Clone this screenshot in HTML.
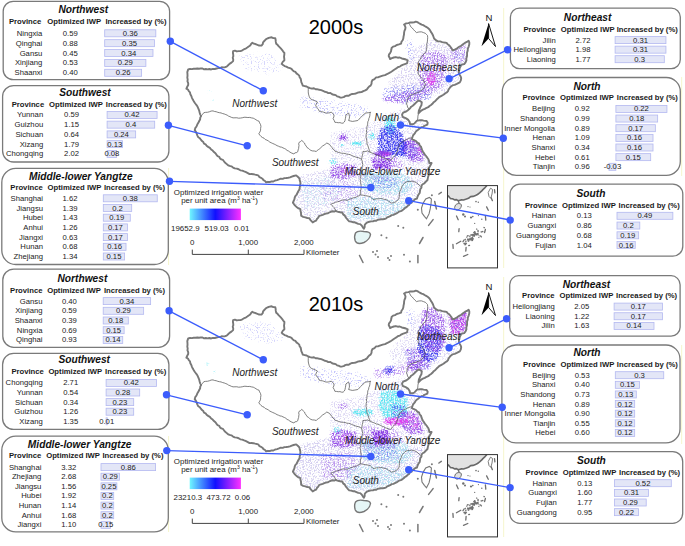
<!DOCTYPE html>
<html><head><meta charset="utf-8"><title>IWP map</title><style>
html,body{margin:0;padding:0;background:#fff;}
svg{display:block;font-family:"Liberation Sans", sans-serif;}
.bx{fill:#fff;stroke:#7a7a7a;stroke-width:1.3;}
.tt{font-size:10.2px;font-weight:bold;font-style:italic;fill:#111;}
.hd{font-size:7.7px;font-weight:bold;fill:#1a1a1a;}
.tx{font-size:7.7px;fill:#222;}
.br{fill:#e3e6f7;stroke:#b3b8f0;stroke-width:0.8;}
.ol{fill:none;stroke:#787878;stroke-width:1.9;stroke-linejoin:round;}
.il{fill:none;stroke:#555;stroke-width:0.75;}
.isl{stroke:#777;stroke-width:1.4;}
.ds{stroke:#777;stroke-width:1.5;stroke-linecap:round;}
.lg{font-size:7.9px;fill:#222;}
.rl{font-size:10px;font-style:italic;fill:#222;}
.nn{font-size:9.6px;fill:#111;}
.yr{font-size:20px;fill:#000;}
.cn{stroke:#3b5cfc;stroke-width:1.35;}
.cd{fill:#3b5cfc;}
</style></head>
<body>
<svg width="685" height="546" viewBox="0 0 685 546">
<defs>
<linearGradient id="grad" x1="0" x2="1" y1="0" y2="0">
<stop offset="0" stop-color="#6ff7ff"/><stop offset="0.5" stop-color="#1010ff"/><stop offset="1" stop-color="#ff30ff"/>
</linearGradient>
<clipPath id="cn"><polygon points="187.3,72.1 188.2,69.4 197.4,68.5 207.5,69.4 216.6,68.5 226.7,66.6 229.5,63.9 233.1,61.1 233.1,51.1 240.5,51.1 244.1,49.2 248.7,46.5 252.4,42.8 256.9,44.7 261.5,45.6 264.3,41 266.1,39.2 271.6,37.3 275.3,38.2 276.2,43.7 279.8,47.4 284.4,52.9 284.4,60.2 281.7,63.9 286.3,66.6 290,68.2 295.5,71.9 299.2,75.6 301,80.2 302.8,85.6 308.3,87.5 317.5,89.3 326.6,92.1 334,94.8 340.4,97.6 346.8,95.7 354.1,93.9 361.5,92.1 367,89.3 370.6,85.6 372.4,80.2 376.1,77.4 380.5,76.3 385,75.1 389.4,72.9 393.8,70 398.2,67 402.6,64.8 407,63.4 407.7,60.4 404.1,59 399.7,57.5 393.8,57.5 390.1,59 388.7,56 390.9,51.6 391.6,48 396.7,45 401.1,43.6 403.3,38.5 404.1,32.6 405.5,27.5 404.1,24.5 408.5,23.1 415.8,21.6 420.2,23.8 424.6,26 429,28.9 431.9,33.3 434.1,38.5 437.8,41.4 442.2,42.1 446.6,42.9 450.2,46.5 452.4,50.2 456.8,48.7 461.2,45.8 464.9,42.9 468.6,40.7 469.3,44.3 467.8,48.7 467.1,54.6 466.4,60.4 464.2,64.1 461.2,64.8 459.8,67.8 459,73.6 461.2,78 459.8,82.4 456.8,83.9 452.4,85.4 449.5,88.3 448,91.2 445.1,93.4 441.5,95.8 438,98.3 435.4,100.9 432.4,103.8 429.5,106 426.6,107.8 422.9,109.7 420,111.8 418.5,113.3 418.9,110.4 420,108.2 421.4,105.3 421.8,102.3 420,100.9 418.5,100.5 416.3,102.3 414.1,104.5 411.2,106.7 409,109.3 406.1,111.5 403.1,112.6 402,114.8 402.8,117 406.1,118.4 408.3,119.9 409.7,122.1 410.1,124.3 412.7,124.3 415.6,122.1 417,120.6 420,120.3 423.6,120.6 426.6,121 427.7,122.8 427.3,124.7 424.4,125.8 421.4,127.2 419.2,128.7 417.8,130 414.6,133.7 412.4,137.3 411.9,139.2 416,141 419.2,143.7 421.5,148.3 423.8,152.9 426.5,156.5 428.4,159.3 429.3,163 431.6,163 430.2,165.7 428.4,168.4 429.3,172.1 428.4,175.8 427.5,180 425.5,182 421.5,185.7 419.7,193 417,198.5 412.4,201.2 407.8,205.8 402.3,210.4 395,214 388.6,216.8 385.8,218.6 379.4,219.5 373,221.4 367.5,222.3 364.7,225 363.8,228.7 360.2,224.1 354.7,222.3 349.2,221.4 345.7,217.4 342.4,212.5 335.8,210.8 329.2,212.5 324.3,214.1 319.3,215.8 316,220.7 312.7,222.4 309.4,218.3 305.3,217.4 301.2,215.8 300.4,209.2 295.4,205.9 292.9,202.6 295.4,196 299.5,189.4 300.4,183.7 299.5,178.7 296.2,175.4 293.6,176 288.1,177.8 280.8,178.7 273.4,181.5 266.1,182.4 262.4,178.7 257,175 249.6,174.1 244.1,171.4 236.8,168.6 229.5,165.9 224,161.3 216.6,154.9 211.1,149.4 206.6,145.7 202,141.1 197.4,135.6 194.7,130.2 196.5,126.5 199.2,121 201.1,116.1 199.2,110.6 196.5,105.1 192.8,99.6 190,92.3 186.4,88.6 188.2,85 187.3,77.6"/></clipPath>
<filter id="sp_haze_1" x="150" y="0" width="350" height="546" filterUnits="userSpaceOnUse" color-interpolation-filters="sRGB">
<feGaussianBlur in="SourceGraphic" stdDeviation="1.2" result="bl"/>
<feTurbulence type="fractalNoise" baseFrequency="0.7" numOctaves="2" seed="53" result="n"/>
<feColorMatrix in="n" type="matrix" values="0 0 0 0 0  0 0 0 0 0  0 0 0 0 0  1 0 0 0 0" result="na0"/>
<feComponentTransfer in="na0" result="na"><feFuncA type="table" tableValues="0 0 0.001 0.03 0.18 0.5 0.82 0.97 0.999 1 1"/></feComponentTransfer>
<feComposite in="bl" in2="na" operator="arithmetic" k1="0" k2="2" k3="-1" k4="0" result="m"/>
<feColorMatrix in="bl" type="matrix" values="1 0 0 0 0  0 1 0 0 0  0 0 1 0 0  0 0 0 0 1" result="sc"/>
<feComposite in="sc" in2="m" operator="in" result="o"/>
<feGaussianBlur in="o" stdDeviation="0.35"/>
</filter><filter id="sp_lcyan_1" x="150" y="0" width="350" height="546" filterUnits="userSpaceOnUse" color-interpolation-filters="sRGB">
<feGaussianBlur in="SourceGraphic" stdDeviation="1.2" result="bl"/>
<feTurbulence type="fractalNoise" baseFrequency="0.7" numOctaves="2" seed="60" result="n"/>
<feColorMatrix in="n" type="matrix" values="0 0 0 0 0  0 0 0 0 0  0 0 0 0 0  1 0 0 0 0" result="na0"/>
<feComponentTransfer in="na0" result="na"><feFuncA type="table" tableValues="0 0 0.001 0.03 0.18 0.5 0.82 0.97 0.999 1 1"/></feComponentTransfer>
<feComposite in="bl" in2="na" operator="arithmetic" k1="0" k2="2" k3="-1" k4="0" result="m"/>
<feColorMatrix in="bl" type="matrix" values="1 0 0 0 0  0 1 0 0 0  0 0 1 0 0  0 0 0 0 1" result="sc"/>
<feComposite in="sc" in2="m" operator="in" result="o"/>
<feGaussianBlur in="o" stdDeviation="0.35"/>
</filter><filter id="sp_cyan_1" x="150" y="0" width="350" height="546" filterUnits="userSpaceOnUse" color-interpolation-filters="sRGB">
<feGaussianBlur in="SourceGraphic" stdDeviation="1.2" result="bl"/>
<feTurbulence type="fractalNoise" baseFrequency="0.7" numOctaves="2" seed="67" result="n"/>
<feColorMatrix in="n" type="matrix" values="0 0 0 0 0  0 0 0 0 0  0 0 0 0 0  1 0 0 0 0" result="na0"/>
<feComponentTransfer in="na0" result="na"><feFuncA type="table" tableValues="0 0 0.001 0.03 0.18 0.5 0.82 0.97 0.999 1 1"/></feComponentTransfer>
<feComposite in="bl" in2="na" operator="arithmetic" k1="0" k2="2" k3="-1" k4="0" result="m"/>
<feColorMatrix in="bl" type="matrix" values="1 0 0 0 0  0 1 0 0 0  0 0 1 0 0  0 0 0 0 1" result="sc"/>
<feComposite in="sc" in2="m" operator="in" result="o"/>
<feGaussianBlur in="o" stdDeviation="0.35"/>
</filter><filter id="sp_blue_1" x="150" y="0" width="350" height="546" filterUnits="userSpaceOnUse" color-interpolation-filters="sRGB">
<feGaussianBlur in="SourceGraphic" stdDeviation="1.2" result="bl"/>
<feTurbulence type="fractalNoise" baseFrequency="0.7" numOctaves="2" seed="74" result="n"/>
<feColorMatrix in="n" type="matrix" values="0 0 0 0 0  0 0 0 0 0  0 0 0 0 0  1 0 0 0 0" result="na0"/>
<feComponentTransfer in="na0" result="na"><feFuncA type="table" tableValues="0 0 0.001 0.03 0.18 0.5 0.82 0.97 0.999 1 1"/></feComponentTransfer>
<feComposite in="bl" in2="na" operator="arithmetic" k1="0" k2="2" k3="-1" k4="0" result="m"/>
<feColorMatrix in="bl" type="matrix" values="1 0 0 0 0  0 1 0 0 0  0 0 1 0 0  0 0 0 0 1" result="sc"/>
<feComposite in="sc" in2="m" operator="in" result="o"/>
<feGaussianBlur in="o" stdDeviation="0.35"/>
</filter><filter id="sp_purple_1" x="150" y="0" width="350" height="546" filterUnits="userSpaceOnUse" color-interpolation-filters="sRGB">
<feGaussianBlur in="SourceGraphic" stdDeviation="1.2" result="bl"/>
<feTurbulence type="fractalNoise" baseFrequency="0.7" numOctaves="2" seed="81" result="n"/>
<feColorMatrix in="n" type="matrix" values="0 0 0 0 0  0 0 0 0 0  0 0 0 0 0  1 0 0 0 0" result="na0"/>
<feComponentTransfer in="na0" result="na"><feFuncA type="table" tableValues="0 0 0.001 0.03 0.18 0.5 0.82 0.97 0.999 1 1"/></feComponentTransfer>
<feComposite in="bl" in2="na" operator="arithmetic" k1="0" k2="2" k3="-1" k4="0" result="m"/>
<feColorMatrix in="bl" type="matrix" values="1 0 0 0 0  0 1 0 0 0  0 0 1 0 0  0 0 0 0 1" result="sc"/>
<feComposite in="sc" in2="m" operator="in" result="o"/>
<feGaussianBlur in="o" stdDeviation="0.35"/>
</filter><filter id="sp_magenta_1" x="150" y="0" width="350" height="546" filterUnits="userSpaceOnUse" color-interpolation-filters="sRGB">
<feGaussianBlur in="SourceGraphic" stdDeviation="1.2" result="bl"/>
<feTurbulence type="fractalNoise" baseFrequency="0.7" numOctaves="2" seed="88" result="n"/>
<feColorMatrix in="n" type="matrix" values="0 0 0 0 0  0 0 0 0 0  0 0 0 0 0  1 0 0 0 0" result="na0"/>
<feComponentTransfer in="na0" result="na"><feFuncA type="table" tableValues="0 0 0.001 0.03 0.18 0.5 0.82 0.97 0.999 1 1"/></feComponentTransfer>
<feComposite in="bl" in2="na" operator="arithmetic" k1="0" k2="2" k3="-1" k4="0" result="m"/>
<feColorMatrix in="bl" type="matrix" values="1 0 0 0 0  0 1 0 0 0  0 0 1 0 0  0 0 0 0 1" result="sc"/>
<feComposite in="sc" in2="m" operator="in" result="o"/>
<feGaussianBlur in="o" stdDeviation="0.35"/>
</filter><filter id="sp_haze_2" x="150" y="0" width="350" height="546" filterUnits="userSpaceOnUse" color-interpolation-filters="sRGB">
<feGaussianBlur in="SourceGraphic" stdDeviation="1.2" result="bl"/>
<feTurbulence type="fractalNoise" baseFrequency="0.7" numOctaves="2" seed="103" result="n"/>
<feColorMatrix in="n" type="matrix" values="0 0 0 0 0  0 0 0 0 0  0 0 0 0 0  1 0 0 0 0" result="na0"/>
<feComponentTransfer in="na0" result="na"><feFuncA type="table" tableValues="0 0 0.001 0.03 0.18 0.5 0.82 0.97 0.999 1 1"/></feComponentTransfer>
<feComposite in="bl" in2="na" operator="arithmetic" k1="0" k2="2" k3="-1" k4="0" result="m"/>
<feColorMatrix in="bl" type="matrix" values="1 0 0 0 0  0 1 0 0 0  0 0 1 0 0  0 0 0 0 1" result="sc"/>
<feComposite in="sc" in2="m" operator="in" result="o"/>
<feGaussianBlur in="o" stdDeviation="0.35"/>
</filter><filter id="sp_lcyan_2" x="150" y="0" width="350" height="546" filterUnits="userSpaceOnUse" color-interpolation-filters="sRGB">
<feGaussianBlur in="SourceGraphic" stdDeviation="1.2" result="bl"/>
<feTurbulence type="fractalNoise" baseFrequency="0.7" numOctaves="2" seed="110" result="n"/>
<feColorMatrix in="n" type="matrix" values="0 0 0 0 0  0 0 0 0 0  0 0 0 0 0  1 0 0 0 0" result="na0"/>
<feComponentTransfer in="na0" result="na"><feFuncA type="table" tableValues="0 0 0.001 0.03 0.18 0.5 0.82 0.97 0.999 1 1"/></feComponentTransfer>
<feComposite in="bl" in2="na" operator="arithmetic" k1="0" k2="2" k3="-1" k4="0" result="m"/>
<feColorMatrix in="bl" type="matrix" values="1 0 0 0 0  0 1 0 0 0  0 0 1 0 0  0 0 0 0 1" result="sc"/>
<feComposite in="sc" in2="m" operator="in" result="o"/>
<feGaussianBlur in="o" stdDeviation="0.35"/>
</filter><filter id="sp_cyan_2" x="150" y="0" width="350" height="546" filterUnits="userSpaceOnUse" color-interpolation-filters="sRGB">
<feGaussianBlur in="SourceGraphic" stdDeviation="1.2" result="bl"/>
<feTurbulence type="fractalNoise" baseFrequency="0.7" numOctaves="2" seed="117" result="n"/>
<feColorMatrix in="n" type="matrix" values="0 0 0 0 0  0 0 0 0 0  0 0 0 0 0  1 0 0 0 0" result="na0"/>
<feComponentTransfer in="na0" result="na"><feFuncA type="table" tableValues="0 0 0.001 0.03 0.18 0.5 0.82 0.97 0.999 1 1"/></feComponentTransfer>
<feComposite in="bl" in2="na" operator="arithmetic" k1="0" k2="2" k3="-1" k4="0" result="m"/>
<feColorMatrix in="bl" type="matrix" values="1 0 0 0 0  0 1 0 0 0  0 0 1 0 0  0 0 0 0 1" result="sc"/>
<feComposite in="sc" in2="m" operator="in" result="o"/>
<feGaussianBlur in="o" stdDeviation="0.35"/>
</filter><filter id="sp_blue_2" x="150" y="0" width="350" height="546" filterUnits="userSpaceOnUse" color-interpolation-filters="sRGB">
<feGaussianBlur in="SourceGraphic" stdDeviation="1.2" result="bl"/>
<feTurbulence type="fractalNoise" baseFrequency="0.7" numOctaves="2" seed="124" result="n"/>
<feColorMatrix in="n" type="matrix" values="0 0 0 0 0  0 0 0 0 0  0 0 0 0 0  1 0 0 0 0" result="na0"/>
<feComponentTransfer in="na0" result="na"><feFuncA type="table" tableValues="0 0 0.001 0.03 0.18 0.5 0.82 0.97 0.999 1 1"/></feComponentTransfer>
<feComposite in="bl" in2="na" operator="arithmetic" k1="0" k2="2" k3="-1" k4="0" result="m"/>
<feColorMatrix in="bl" type="matrix" values="1 0 0 0 0  0 1 0 0 0  0 0 1 0 0  0 0 0 0 1" result="sc"/>
<feComposite in="sc" in2="m" operator="in" result="o"/>
<feGaussianBlur in="o" stdDeviation="0.35"/>
</filter><filter id="sp_purple_2" x="150" y="0" width="350" height="546" filterUnits="userSpaceOnUse" color-interpolation-filters="sRGB">
<feGaussianBlur in="SourceGraphic" stdDeviation="1.2" result="bl"/>
<feTurbulence type="fractalNoise" baseFrequency="0.7" numOctaves="2" seed="131" result="n"/>
<feColorMatrix in="n" type="matrix" values="0 0 0 0 0  0 0 0 0 0  0 0 0 0 0  1 0 0 0 0" result="na0"/>
<feComponentTransfer in="na0" result="na"><feFuncA type="table" tableValues="0 0 0.001 0.03 0.18 0.5 0.82 0.97 0.999 1 1"/></feComponentTransfer>
<feComposite in="bl" in2="na" operator="arithmetic" k1="0" k2="2" k3="-1" k4="0" result="m"/>
<feColorMatrix in="bl" type="matrix" values="1 0 0 0 0  0 1 0 0 0  0 0 1 0 0  0 0 0 0 1" result="sc"/>
<feComposite in="sc" in2="m" operator="in" result="o"/>
<feGaussianBlur in="o" stdDeviation="0.35"/>
</filter><filter id="sp_magenta_2" x="150" y="0" width="350" height="546" filterUnits="userSpaceOnUse" color-interpolation-filters="sRGB">
<feGaussianBlur in="SourceGraphic" stdDeviation="1.2" result="bl"/>
<feTurbulence type="fractalNoise" baseFrequency="0.7" numOctaves="2" seed="138" result="n"/>
<feColorMatrix in="n" type="matrix" values="0 0 0 0 0  0 0 0 0 0  0 0 0 0 0  1 0 0 0 0" result="na0"/>
<feComponentTransfer in="na0" result="na"><feFuncA type="table" tableValues="0 0 0.001 0.03 0.18 0.5 0.82 0.97 0.999 1 1"/></feComponentTransfer>
<feComposite in="bl" in2="na" operator="arithmetic" k1="0" k2="2" k3="-1" k4="0" result="m"/>
<feColorMatrix in="bl" type="matrix" values="1 0 0 0 0  0 1 0 0 0  0 0 1 0 0  0 0 0 0 1" result="sc"/>
<feComposite in="sc" in2="m" operator="in" result="o"/>
<feGaussianBlur in="o" stdDeviation="0.35"/>
</filter>
</defs>
<rect width="685" height="546" fill="#fff"/>
<path d="M503.7,8 V268 M503.7,277 V537 M168.6,168 V265 M168.6,436 V532 M681.7,77 V176 M681.7,345 V444" stroke="#f6f6cc" stroke-width="1" fill="none"/>
<g transform="translate(0,0)">
<polygon points="187.3,72.1 188.2,69.4 197.4,68.5 207.5,69.4 216.6,68.5 226.7,66.6 229.5,63.9 233.1,61.1 233.1,51.1 240.5,51.1 244.1,49.2 248.7,46.5 252.4,42.8 256.9,44.7 261.5,45.6 264.3,41 266.1,39.2 271.6,37.3 275.3,38.2 276.2,43.7 279.8,47.4 284.4,52.9 284.4,60.2 281.7,63.9 286.3,66.6 290,68.2 295.5,71.9 299.2,75.6 301,80.2 302.8,85.6 308.3,87.5 317.5,89.3 326.6,92.1 334,94.8 340.4,97.6 346.8,95.7 354.1,93.9 361.5,92.1 367,89.3 370.6,85.6 372.4,80.2 376.1,77.4 380.5,76.3 385,75.1 389.4,72.9 393.8,70 398.2,67 402.6,64.8 407,63.4 407.7,60.4 404.1,59 399.7,57.5 393.8,57.5 390.1,59 388.7,56 390.9,51.6 391.6,48 396.7,45 401.1,43.6 403.3,38.5 404.1,32.6 405.5,27.5 404.1,24.5 408.5,23.1 415.8,21.6 420.2,23.8 424.6,26 429,28.9 431.9,33.3 434.1,38.5 437.8,41.4 442.2,42.1 446.6,42.9 450.2,46.5 452.4,50.2 456.8,48.7 461.2,45.8 464.9,42.9 468.6,40.7 469.3,44.3 467.8,48.7 467.1,54.6 466.4,60.4 464.2,64.1 461.2,64.8 459.8,67.8 459,73.6 461.2,78 459.8,82.4 456.8,83.9 452.4,85.4 449.5,88.3 448,91.2 445.1,93.4 441.5,95.8 438,98.3 435.4,100.9 432.4,103.8 429.5,106 426.6,107.8 422.9,109.7 420,111.8 418.5,113.3 418.9,110.4 420,108.2 421.4,105.3 421.8,102.3 420,100.9 418.5,100.5 416.3,102.3 414.1,104.5 411.2,106.7 409,109.3 406.1,111.5 403.1,112.6 402,114.8 402.8,117 406.1,118.4 408.3,119.9 409.7,122.1 410.1,124.3 412.7,124.3 415.6,122.1 417,120.6 420,120.3 423.6,120.6 426.6,121 427.7,122.8 427.3,124.7 424.4,125.8 421.4,127.2 419.2,128.7 417.8,130 414.6,133.7 412.4,137.3 411.9,139.2 416,141 419.2,143.7 421.5,148.3 423.8,152.9 426.5,156.5 428.4,159.3 429.3,163 431.6,163 430.2,165.7 428.4,168.4 429.3,172.1 428.4,175.8 427.5,180 425.5,182 421.5,185.7 419.7,193 417,198.5 412.4,201.2 407.8,205.8 402.3,210.4 395,214 388.6,216.8 385.8,218.6 379.4,219.5 373,221.4 367.5,222.3 364.7,225 363.8,228.7 360.2,224.1 354.7,222.3 349.2,221.4 345.7,217.4 342.4,212.5 335.8,210.8 329.2,212.5 324.3,214.1 319.3,215.8 316,220.7 312.7,222.4 309.4,218.3 305.3,217.4 301.2,215.8 300.4,209.2 295.4,205.9 292.9,202.6 295.4,196 299.5,189.4 300.4,183.7 299.5,178.7 296.2,175.4 293.6,176 288.1,177.8 280.8,178.7 273.4,181.5 266.1,182.4 262.4,178.7 257,175 249.6,174.1 244.1,171.4 236.8,168.6 229.5,165.9 224,161.3 216.6,154.9 211.1,149.4 206.6,145.7 202,141.1 197.4,135.6 194.7,130.2 196.5,126.5 199.2,121 201.1,116.1 199.2,110.6 196.5,105.1 192.8,99.6 190,92.3 186.4,88.6 188.2,85 187.3,77.6" fill="#fff"/>
<g clip-path="url(#cn)">
<g filter="url(#sp_haze_1)"><polygon points="296,176 330,168 362,172 400,180 424,180 418,200 400,212 370,222 340,222 310,222 294,205" fill="#b4a8e6" fill-opacity="0.265"/><polygon points="330,132 365,126 385,114 405,108 412,115 428,125 430,165 424,182 362,180 330,162" fill="#b4a8e6" fill-opacity="0.245"/><polygon points="416,46 432,40 448,45 467,44 465,66 459,80 445,92 420,102 395,100 388,82 408,62" fill="#b4a8e6" fill-opacity="0.283"/></g>
<g filter="url(#sp_lcyan_1)"><polygon points="362,172 385,170 408,175 414,186 405,195 380,195 362,190" fill="#8fd8ec" fill-opacity="0.4"/><polygon points="345,198 370,196 398,200 412,203 400,214 372,220 348,220" fill="#8fd8ec" fill-opacity="0.332"/><polygon points="300,182 330,176 345,190 330,205 305,210" fill="#8fd8ec" fill-opacity="0.2"/><ellipse cx="362.7" cy="237.6" rx="6" ry="5" fill="#8fd8ec" fill-opacity="0.274"/></g>
<g filter="url(#sp_cyan_1)"><polygon points="385,116 394,116 397,127 395,134 389,137 384,128" fill="#55e6f2" fill-opacity="0.526"/><ellipse cx="372" cy="136" rx="3" ry="4" fill="#55e6f2" fill-opacity="0.526"/><ellipse cx="357" cy="143.5" rx="6.5" ry="2" fill="#55e6f2" fill-opacity="0.726"/><ellipse cx="342" cy="145" rx="2.5" ry="1.5" fill="#55e6f2" fill-opacity="0.613"/><ellipse cx="333" cy="162" rx="5" ry="3.5" fill="#55e6f2" fill-opacity="0.387"/><ellipse cx="210" cy="92" rx="1.5" ry="1.2" fill="#55e6f2" fill-opacity="0.418"/><ellipse cx="213" cy="100" rx="1.2" ry="1.2" fill="#55e6f2" fill-opacity="0.418"/></g>
<g filter="url(#sp_blue_1)"><polygon points="380,128 392,124 402,132 407,145 405,156 392,157 378,152 377,140" fill="#3c3cf0" fill-opacity="0.526"/><polygon points="400,140 415,142 420,155 410,160 400,156" fill="#3c3cf0" fill-opacity="0.354"/><polygon points="405,40 414,40 415,60 408,62" fill="#3c3cf0" fill-opacity="0.2"/><polygon points="384,88 412,84 432,88 430,100 405,104 382,100" fill="#3c3cf0" fill-opacity="0.265"/><polygon points="300,96 330,100 360,104 372,110 360,118 320,114 300,108" fill="#3c3cf0" fill-opacity="0.158"/><polygon points="238,55 270,52 285,70 270,75 245,70" fill="#3c3cf0" fill-opacity="0.112"/><ellipse cx="459" cy="55" rx="7" ry="7" fill="#3c3cf0" fill-opacity="0.173"/><ellipse cx="385" cy="182" rx="14" ry="7" fill="#3c3cf0" fill-opacity="0.224"/></g>
<g filter="url(#sp_purple_1)"><polygon points="405,138 418,140 425,152 424,162 410,162 402,150" fill="#8c3ee6" fill-opacity="0.447"/><ellipse cx="383" cy="153.5" rx="10" ry="3" fill="#8c3ee6" fill-opacity="0.8"/><polygon points="370,156 398,157 405,168 375,170" fill="#8c3ee6" fill-opacity="0.332"/><polygon points="382,96 394,94 410,90 424,90 422,100 400,104 384,102" fill="#8c3ee6" fill-opacity="0.354"/><polygon points="330,166 342,163 356,165 358,176 345,180 330,178" fill="#8c3ee6" fill-opacity="0.447"/><polygon points="421,54 436,50 449,56 446,75 440,90 425,96 418,80" fill="#8c3ee6" fill-opacity="0.346"/><polygon points="449,47 466,44 466,62 450,64" fill="#8c3ee6" fill-opacity="0.265"/><polygon points="371,159 390,158 392,170 372,170" fill="#8c3ee6" fill-opacity="0.387"/><ellipse cx="343" cy="137.5" rx="5" ry="3.5" fill="#8c3ee6" fill-opacity="0.553"/><polygon points="320,180 350,180 360,195 345,205 322,200" fill="#8c3ee6" fill-opacity="0.187"/></g>
<g filter="url(#sp_magenta_1)"><ellipse cx="431.5" cy="79" rx="5.5" ry="7.5" fill="#e040f0" fill-opacity="0.5"/><ellipse cx="386" cy="154" rx="5" ry="2" fill="#e040f0" fill-opacity="0.418"/><ellipse cx="419" cy="150" rx="2.5" ry="4" fill="#e040f0" fill-opacity="0.387"/><ellipse cx="345" cy="171" rx="5" ry="5" fill="#e040f0" fill-opacity="0.245"/></g>
</g>
<polyline points="201.1,116.1 202.53,114.46 203.8,112.7 205.63,112.35 207.49,112.25 209.3,111.8 211.08,111.05 213,110.9 214.56,111.48 216.22,111.72 217.78,112.32 219.4,112.7 221.07,112.95 222.63,113.55 224.25,113.97 225.8,114.6 227.23,115.17 228.48,116.09 229.93,116.61 231.3,117.3 233.09,117.85 234.94,117.81 236.8,117.78 238.6,118.2 240.46,118.05 242.3,117.77 244.12,117.28 246,117.3 247.82,117.54 249.69,117.41 251.49,117.89 253.3,118.2 254.66,118.92 255.99,119.72 257.28,120.59 258.8,121 259.63,122.89 260.6,124.7 260.93,126.53 260.62,128.37 260.6,130.2 259.86,132.08 258.8,133.8 259.88,135.15 261,136.46 262.4,137.5 264.03,138.17 265.26,139.5 266.92,140.14 268.44,140.99 269.8,142.1 271.27,142.79 272.75,143.49 274.25,144.13 275.71,144.83 277.1,145.7 278.58,146.22 279.97,146.94 281.56,147.16 282.97,147.86 284.4,148.5 285.87,149.25 287.06,150.43 288.62,151.05 289.9,152.1 291.83,153.15 293.9,153.9 295.06,152.82 296.69,152.51 297.9,151.5 298.07,149.96 298.63,148.48 298.76,146.93 299,145.4 298.66,143.79 299.2,142.3 300.6,141.49 301.8,140.4 303.14,141.71 304.5,143 305.13,144.67 306.19,146.09 307.1,147.6 308.46,148.33 309.55,149.49 310.81,150.37 312.3,150.9 314.33,151.01 316.3,151.5 317.29,150.34 318.57,149.52 319.82,148.66 320.9,147.6 322.4,146.11 324.2,145 325.54,144.05 326.8,143 329.4,144.3 330.68,145.97 332,147.6 332.94,149.04 334.39,150.04 335.3,151.5 336.9,151.69 338.36,152.38 339.9,152.8 341.64,153.21 343.43,153.33 345.2,153.5 346.8,154.16 348.55,154.34 350.24,154.69 351.8,155.5 353.49,156.26 355.23,156.86 357,157.4 358.67,157.76 360.18,158.47 361.6,159.4" class="il"/>
<polyline points="308.3,87.5 308.28,89.33 308.24,91.17 308.3,93 308.71,94.91 309.3,96.76 310.2,98.5 311.88,99.64 313.8,100.3 315.69,101.11 317.5,102.1 316.32,103.81 315.7,105.8 316.64,107.15 317.61,108.48 318.64,109.77 319.3,111.3 320.76,111.67 322.28,111.79 323.72,112.23 325.12,112.82 326.6,113.1 328.17,112.99 329.7,112.67 331.2,112.2 332.8,113.4 334,115 333.85,116.87 333.1,118.6 334.15,120.38 334.9,122.3 336.56,122.44 338.22,122.74 339.9,122.6 341.46,123.11 343.1,123.2 344.3,122.02 345,120.5 345.36,118.68 345.69,116.85 345.9,115 347.17,113.93 348.6,113.1 349.18,114.92 349.5,116.8 349.25,118.7 348.6,120.5 350.44,120.97 352.3,121.4 354.15,121.17 355.97,120.85 357.8,120.5 358.98,119.21 360.23,118 361.5,116.8 362.57,115.44 364.06,114.49 365.1,113.1 366.94,112.86 368.79,112.67 370.6,112.2 369.94,113.74 369.85,115.44 369.51,117.07 368.8,118.6 368.63,120.18 367.89,121.64 367.65,123.21 367.6,124.81 367.03,126.31 366.9,127.9 366.87,129.49 366.37,131.04 366.77,132.67 366.17,134.21 366.2,135.8 366.01,137.39 366.54,138.91 366.65,140.48 367.02,142.02 366.9,143.6 367.68,145.31 368.34,147.07 368.8,148.9 369.58,150.5 370.1,152.2 367.5,150.9 366.01,151.4 364.45,151.44 362.9,151.5 362.87,153.54 362.3,155.5 361.93,157.45 361.6,159.4" class="il"/>
<polyline points="408.5,23.1 409.83,24.76 410.7,26.7 412.34,28.02 413.6,29.7 415,31.2 416.5,32.6 418.17,32.14 419.87,31.88 421.6,31.9 423.46,32.58 425.3,33.3 426.44,34.36 427.5,35.5 427.7,37.7 427.5,39.9 427.34,41.88 426.8,43.81 426.8,45.8 426.79,47.77 426.48,49.7 426,51.6 424.79,53.33 423.1,54.6 422.15,56.16 420.9,57.5 420.4,59.08 419.4,60.4 418.39,61.76 418,63.4 418.48,65.58 418.7,67.8 418.13,69.45 418.49,71.24 418,72.9 418.86,74.89 420.2,76.6 421.65,78.05 423.1,79.5 423.71,81.03 424.47,82.48 425.3,83.9 424.95,85.42 424.48,86.89 423.8,88.3 422.52,89.17 421.56,90.43 420.2,91.2 418.89,92.24 417.18,92.5 415.8,93.4 414.01,93.84 412.32,94.63 410.5,95 409.34,96.49 408.2,98 407.38,99.4 407.1,101 406.95,102.53 406.5,104 407.25,105.42 407.5,107 409,109.3" class="il"/>
<polyline points="418.5,113.3 417.9,116.2 417.83,118.07 417.4,119.9" class="il"/>
<polyline points="370.1,152.2 372.1,153.1 373.57,153.61 375.01,154.22 376.38,155 377.95,155.24 379.4,155.8 380.77,156.5 382.12,157.25 383.63,157.7 384.9,158.6 386.73,159.21 388.54,159.89 390.4,160.4 391.65,159.45 392.4,158 393.6,157 394.6,155.8 395.9,154.9 396.71,153.13 397.23,151.28 397.7,149.4 398,147.47 399.22,145.84 399.5,143.9 400.93,143.26 402.03,142.19 403.2,141.2 405.09,140.32 406.9,139.3 408.57,138.57 410.27,137.97 412.1,137.8" class="il"/>
<polyline points="361.6,159.4 362.2,161.13 362.34,162.96 362.9,164.7 362.42,166.25 361.96,167.8 362.06,169.47 361.5,171 361.36,172.86 361.09,174.69 360.71,176.51 360.2,178.3 360.19,179.85 360.76,181.34 360.63,182.9 361,184.41 361.09,185.95 361.1,187.5 360.92,189.33 360.42,191.12 360.35,192.97 360.2,194.8 358.98,195.8 357.52,196.34 356.19,197.12 354.7,197.6 353.13,197.9 351.67,198.48 350.19,199.02 348.7,199.55 347.3,200.3 345.67,200.06 344.05,199.85 342.4,200.1 340.67,200.47 339.12,201.39 337.4,201.8 335.66,202.2 334.1,203.06 332.39,203.51 330.8,204.3 331.87,205.4 333.03,206.4 334.1,207.5 335.03,209.11 335.8,210.8" class="il"/>
<polyline points="360.2,194.8 362.02,195 363.8,195.39 365.6,195.7 367.14,195.94 368.67,196.26 370.2,196.6 371.64,197.96 373,199.4 374.84,199.28 376.63,198.78 378.49,198.82 380.3,198.5 381.84,198.53 383.25,199.09 384.71,199.47 386.2,199.7 387.6,200.3 388.73,201.37 390.15,202.06 391.3,203.1 393.2,202.8 395,202.1 396.39,201.46 397.3,200.16 398.6,199.4 399.1,197.84 399.26,196.23 399.39,194.62 399.5,193 399.75,191.42 400.59,190.07 401.26,188.65 401.61,187.11 402.3,185.7 403.4,184.33 404.67,183.14 406,182 407.81,181.53 409.7,181.6 411.5,181.1 413.33,181.45 415.1,182 416.53,182.85 417.9,183.8 419.18,185.27 420.6,186.6" class="il"/>
<polygon points="187.3,72.1 188.2,69.4 190.02,68.99 191.88,69.08 193.71,68.74 195.57,68.77 197.4,68.5 199.07,68.76 200.8,68.41 202.49,68.51 204.11,69.4 205.84,69.03 207.5,69.4 209.3,68.98 211.18,69.48 212.96,68.83 214.81,68.98 216.6,68.5 218.28,68.16 219.99,67.99 221.59,67.24 223.36,67.35 225.08,67.24 226.7,66.6 228.11,65.27 229.5,63.9 231.43,62.67 233.1,61.1 233.25,59.43 232.71,57.77 233.33,56.1 233.18,54.43 232.92,52.77 233.1,51.1 234.95,50.68 236.8,51.43 238.65,51.08 240.5,51.1 242.39,50.32 244.1,49.2 245.81,48.59 247.26,47.57 248.7,46.5 250.2,45.53 251.1,43.97 252.4,42.8 253.79,43.68 255.42,44.02 256.9,44.7 259.12,45.53 261.5,45.6 262.72,44.24 263.06,42.34 264.3,41 266.1,39.2 267.83,38.26 269.68,37.69 271.6,37.3 273.35,38.16 275.3,38.2 275.66,40.02 275.79,41.89 276.2,43.7 277.53,44.81 278.6,46.17 279.8,47.4 281.03,48.71 282.2,50.06 283.19,51.57 284.4,52.9 284.32,54.73 284.04,56.55 284.24,58.38 284.4,60.2 282.74,61.82 281.7,63.9 283.07,65.08 284.54,66.08 286.3,66.6 288.09,67.54 290,68.2 291.54,68.87 292.57,70.32 293.89,71.32 295.5,71.9 296.48,73.39 297.92,74.41 299.2,75.6 299.62,77.2 300.64,78.57 301,80.2 301.32,82.09 302.14,83.82 302.8,85.6 304.7,86.05 306.59,86.5 308.3,87.5 310.08,88.17 311.9,88.65 313.89,88.22 315.61,89.21 317.5,89.3 319.34,89.78 321.23,90.12 323.01,90.8 324.71,91.77 326.6,92.1 328.34,93.09 330.44,93.06 332.11,94.22 334,94.8 335.76,95.12 337.12,96.38 338.86,96.76 340.4,97.6 342.1,97.45 343.72,97.06 345.2,96.18 346.8,95.7 348.73,95.69 350.41,94.63 352.18,93.98 354.1,93.9 355.97,93.54 357.7,92.59 359.59,92.29 361.5,92.1 363.3,91.09 365.21,90.32 367,89.3 367.98,87.85 369.1,86.55 370.6,85.6 371.51,83.9 371.64,81.95 372.4,80.2 374.5,79.13 376.1,77.4 378.39,77.2 380.5,76.3 382.72,75.59 385,75.1 386.45,74.33 387.94,73.65 389.4,72.9 390.94,72.04 392.38,71.04 393.8,70 395.3,69.04 396.79,68.09 398.2,67 399.84,66.62 401.14,65.54 402.6,64.8 404.78,64.04 407,63.4 407.7,60.4 405.97,59.52 404.1,59 401.82,58.47 399.7,57.5 397.73,57.68 395.77,57.07 393.8,57.5 391.94,58.23 390.1,59 389.44,57.48 388.7,56 389.04,54.34 390.1,53.03 390.9,51.6 391.32,49.81 391.6,48 393.08,46.63 395.05,46.09 396.7,45 398.94,44.41 401.1,43.6 401.47,41.74 402.67,40.25 403.3,38.5 403.54,36.53 403.99,34.59 404.1,32.6 404.44,30.86 405.21,29.25 405.5,27.5 404.99,25.91 404.1,24.5 406.17,23.39 408.5,23.1 410.25,22.34 412.18,22.51 414.06,22.38 415.8,21.6 417.37,22.13 418.75,23.03 420.2,23.8 421.63,24.61 423.21,25.12 424.6,26 426.13,26.86 427.63,27.79 429,28.9 430.06,30.3 430.86,31.88 431.9,33.3 432.8,34.96 433.47,36.72 434.1,38.5 435.8,40.14 437.8,41.4 440.07,41.33 442.2,42.1 444.39,42.56 446.6,42.9 447.65,44.25 449.12,45.18 450.2,46.5 451.51,48.22 452.4,50.2 454.69,49.71 456.8,48.7 458.14,47.54 459.58,46.53 461.2,45.8 463.01,44.3 464.9,42.9 466.84,41.95 468.6,40.7 469.3,42.43 469.3,44.3 468.7,46.55 467.8,48.7 467.72,50.68 467.04,52.6 467.1,54.6 466.92,56.54 466.32,58.43 466.4,60.4 465.56,62.4 464.2,64.1 461.2,64.8 460.63,66.36 459.8,67.8 459.4,69.71 458.92,71.62 459,73.6 459.77,75.05 460.69,76.42 461.2,78 460.83,80.3 459.8,82.4 458.29,83.13 456.8,83.9 454.69,84.91 452.4,85.4 450.75,86.65 449.5,88.3 448.48,89.61 448,91.2 446.72,92.53 445.1,93.4 443.41,94.77 441.5,95.8 439.59,96.82 438,98.3 436.61,99.51 435.4,100.9 433.71,102.15 432.4,103.8 431.03,105.01 429.5,106 428.23,107.18 426.6,107.8 424.84,108.92 422.9,109.7 421.29,110.54 420,111.8 418.5,113.3 418.9,110.4 420,108.2 420.51,106.66 421.4,105.3 421.8,102.3 420,100.9 418.5,100.5 416.3,102.3 414.1,104.5 412.73,105.71 411.2,106.7 410.16,108.05 409,109.3 407.59,110.46 406.1,111.5 403.1,112.6 402,114.8 402.8,117 404.48,117.63 406.1,118.4 408.3,119.9 409.7,122.1 410.1,124.3 412.7,124.3 414.38,123.5 415.6,122.1 417,120.6 420,120.3 421.83,120.14 423.6,120.6 426.6,121 427.7,122.8 427.3,124.7 424.4,125.8 423.09,126.9 421.4,127.2 419.2,128.7 417.8,130 416.43,130.97 415.41,132.24 414.6,133.7 413.13,135.27 412.4,137.3 411.9,139.2 413.97,140.05 416,141 417.34,142.66 419.2,143.7 419.62,145.41 420.96,146.65 421.5,148.3 422.07,149.93 422.76,151.5 423.8,152.9 425.03,154.79 426.5,156.5 427.44,157.91 428.4,159.3 429.03,161.11 429.3,163 431.6,163 430.2,165.7 429.42,167.13 428.4,168.4 429.09,170.19 429.3,172.1 429.23,174.04 428.4,175.8 427.87,177.88 427.5,180 425.5,182 424.3,183.37 422.64,184.26 421.5,185.7 421.45,187.62 420.25,189.26 419.98,191.13 419.7,193 418.46,194.67 417.58,196.51 417,198.5 415.28,199.09 413.9,200.24 412.4,201.2 411.56,202.66 409.94,203.34 409.16,204.86 407.8,205.8 406.54,207.09 404.96,207.99 403.66,209.23 402.3,210.4 400.87,211.19 399.21,211.49 397.88,212.47 396.52,213.41 395,214 393.49,214.9 391.67,215.1 390.21,216.12 388.6,216.8 387.06,217.49 385.8,218.6 384.22,218.96 382.64,219.32 381,219.24 379.4,219.5 377.72,219.7 376.28,220.73 374.53,220.67 373,221.4 371.11,221.33 369.29,221.73 367.5,222.3 365.9,223.44 364.7,225 364.68,226.95 363.8,228.7 362.69,227.1 361.66,225.43 360.2,224.1 358.24,223.88 356.47,223.1 354.7,222.3 352.83,222.21 351.04,221.68 349.2,221.4 347.98,220.11 346.85,218.75 345.7,217.4 344.81,215.63 343.13,214.38 342.4,212.5 340.65,212.46 339.02,211.98 337.37,211.55 335.8,210.8 334.25,211.6 332.39,211.24 330.77,211.77 329.2,212.5 327.68,213.39 325.93,213.56 324.3,214.1 322.69,214.82 321.02,215.39 319.3,215.8 318.31,217.51 316.99,218.99 316,220.7 314.31,221.48 312.7,222.4 311.5,221.11 310.28,219.84 309.4,218.3 307.32,218 305.3,217.4 303.13,216.92 301.2,215.8 301.05,214.14 300.99,212.48 300.49,210.86 300.4,209.2 298.53,208.42 296.91,207.24 295.4,205.9 294.06,204.32 292.9,202.6 293.61,200.98 294.39,199.39 294.67,197.61 295.4,196 296.66,194.49 297.54,192.76 298.42,191.02 299.5,189.4 299.69,187.48 300.1,185.6 300.4,183.7 300.28,182 299.73,180.38 299.5,178.7 297.97,176.93 296.2,175.4 293.6,176 291.78,176.63 290,177.42 288.1,177.8 286.27,177.99 284.43,178.08 282.67,178.86 280.8,178.7 278.97,179.46 277.12,180.16 275.13,180.48 273.4,181.5 271.53,181.34 269.76,182.06 267.88,181.82 266.1,182.4 265.05,180.98 263.48,180.08 262.4,178.7 261.03,177.8 259.51,177.13 258.51,175.69 257,175 255.17,174.63 253.34,174.2 251.48,174.06 249.6,174.1 247.83,173.06 246.03,172.11 244.1,171.4 242.3,170.65 240.32,170.33 238.65,169.23 236.8,168.6 234.82,168.34 233.04,167.55 231.41,166.34 229.5,165.9 227.86,165.06 226.51,163.88 225.14,162.73 224,161.3 222.99,159.97 221.34,159.39 220.02,158.42 219.27,156.8 217.61,156.22 216.6,154.9 215.44,153.31 213.96,152.04 212.69,150.56 211.1,149.4 209.86,147.85 208.15,146.88 206.6,145.7 205.64,144.36 204,143.7 203.32,142.08 202,141.1 200.86,139.72 199.85,138.23 198.28,137.2 197.4,135.6 196.7,133.7 195.95,131.83 194.7,130.2 195.24,128.18 196.5,126.5 197.26,124.6 198.35,122.86 199.2,121 200.11,119.47 200.25,117.65 201.1,116.1 200.19,114.36 199.62,112.51 199.2,110.6 198.39,108.72 197.6,106.83 196.5,105.1 195.5,103.78 194.55,102.42 193.65,101.03 192.8,99.6 191.97,97.82 191.33,95.98 190.35,94.26 190,92.3 188.8,91.07 187.91,89.54 186.4,88.6 187.23,86.76 188.2,85 188.2,83.12 187.45,81.34 187.7,79.43 187.3,77.6 187.53,75.77 187.46,73.93" class="ol"/>
<path d="M355.5,233 C357,231 361,231 364,231.5 C367,231.5 370,232 370.5,234.5 C370,238 367,241 364,242.5 C360,244 356.5,243.5 355.3,241 C354.5,238.5 354.5,235 355.5,233 Z" class="isl" fill="#e6f6f6"/>
<path d="M429.4,197.4 L431.4,199 L431,204 L430.2,208.9 L429,213.9 L426.5,218.8 L424.4,216.3 L422,213 L421.5,208.1 L423.2,203.1 L425.7,199 Z" fill="#fff" stroke="#777" stroke-width="1.1"/>
<line x1="434.7" y1="201.5" x2="436.4" y2="208.9" class="ds"/>
<line x1="428.6" y1="225.4" x2="433.1" y2="219.6" class="ds"/>
<line x1="438.9" y1="194" x2="441.3" y2="192.4" class="ds"/>
<line x1="423" y1="237.5" x2="419.5" y2="243.5" class="ds"/>
<line x1="417.9" y1="255.5" x2="417.9" y2="262.8" class="ds"/>
<line x1="359.5" y1="255.5" x2="363" y2="262.5" class="ds"/>
<circle cx="417.8" cy="209.7" r="1" fill="#7a7a7a"/>
<circle cx="431.9" cy="195.3" r="1" fill="#7a7a7a"/>
<circle cx="398.2" cy="226" r="1" fill="#7a7a7a"/>
<circle cx="403.3" cy="227.7" r="1" fill="#7a7a7a"/>
<circle cx="381.4" cy="235.3" r="1" fill="#7a7a7a"/>
<circle cx="386.5" cy="237.7" r="1" fill="#7a7a7a"/>
<circle cx="373" cy="252" r="1" fill="#7a7a7a"/>
<circle cx="375.5" cy="254.5" r="1" fill="#7a7a7a"/>
<circle cx="377" cy="251" r="1" fill="#7a7a7a"/>
<circle cx="378" cy="257" r="1" fill="#7a7a7a"/>
<circle cx="388" cy="258" r="1" fill="#7a7a7a"/>
<circle cx="391" cy="256" r="1" fill="#7a7a7a"/>
<circle cx="389.5" cy="260" r="1" fill="#7a7a7a"/>
<circle cx="404" cy="254.7" r="1" fill="#7a7a7a"/>
<circle cx="409.9" cy="261.6" r="1" fill="#7a7a7a"/>
<polygon points="447.5,185.9 448,195.4 449.5,197.5 450.8,198.7 452.5,198.8 454.9,199.9 456.5,199.6 458.2,200.7 460,200.2 461.5,199.9 463.5,200 466.4,199.1 468.5,198.3 470.6,196.6 473,196.4 475.5,195.4 477.5,194.5 479.6,192.9 481.5,191.2 482.9,189.6 484.5,188.2 486.2,186.3 487,185.9" fill="#e2e2e2"/><polyline points="448,195.4 449.5,197.5 450.8,198.7 452.5,198.8 454.9,199.9 456.5,199.6 458.2,200.7 460,200.2 461.5,199.9 463.5,200 466.4,199.1 468.5,198.3 470.6,196.6 473,196.4 475.5,195.4 477.5,194.5 479.6,192.9 481.5,191.2 482.9,189.6 484.5,188.2 486.2,186.3 487,185.9" fill="none" stroke="#686868" stroke-width="1.6" stroke-linejoin="round"/>
<path d="M455.5,205 C457,203.3 460,203 461.3,204.5 C461.8,206.5 460.5,209 458,210 C456,210.5 454.6,209.2 454.6,207.5 Z" fill="#e2e2e2" stroke="#6e6e6e" stroke-width="1"/>
<path d="M458.2,200.7 L459.2,203.5" stroke="#6e6e6e" stroke-width="1.3"/>
<path d="M490.5,188.2 L492.6,189.5 L492,194 L490.8,198.3 L489,196.5 L488.2,192.5 Z" fill="#fff" stroke="#6e6e6e" stroke-width="0.9"/>
<line x1="494.5" y1="189.6" x2="494.9" y2="192.9" stroke="#6e6e6e" stroke-width="1.3" stroke-linecap="round"/>
<line x1="491.2" y1="197.8" x2="492.4" y2="200.7" stroke="#6e6e6e" stroke-width="1.3" stroke-linecap="round"/>
<line x1="486.6" y1="206.9" x2="488.3" y2="210.2" stroke="#6e6e6e" stroke-width="1.3" stroke-linecap="round"/>
<line x1="485.4" y1="216" x2="485.8" y2="220.1" stroke="#6e6e6e" stroke-width="1.3" stroke-linecap="round"/>
<line x1="456.5" y1="216" x2="458.2" y2="219.7" stroke="#6e6e6e" stroke-width="1.3" stroke-linecap="round"/>
<line x1="459.1" y1="228.6" x2="458.8" y2="231.7" stroke="#6e6e6e" stroke-width="1.3" stroke-linecap="round"/>
<line x1="485.4" y1="229.5" x2="484.6" y2="232.5" stroke="#6e6e6e" stroke-width="1.3" stroke-linecap="round"/>
<line x1="452.9" y1="244.4" x2="453.2" y2="248.4" stroke="#6e6e6e" stroke-width="1.3" stroke-linecap="round"/>
<line x1="456.4" y1="243.8" x2="460.8" y2="241.3" stroke="#6e6e6e" stroke-width="1.3" stroke-linecap="round"/>
<line x1="466.1" y1="247.5" x2="465.8" y2="251" stroke="#6e6e6e" stroke-width="1.3" stroke-linecap="round"/>
<line x1="463.5" y1="256.3" x2="467.8" y2="254.5" stroke="#6e6e6e" stroke-width="1.3" stroke-linecap="round"/>
<circle cx="476" cy="201.6" r="0.8" fill="#6e6e6e"/>
<circle cx="478.3" cy="202.3" r="0.7" fill="#6e6e6e"/>
<circle cx="468" cy="206.6" r="0.7" fill="#6e6e6e"/>
<circle cx="470" cy="207" r="0.6" fill="#6e6e6e"/>
<circle cx="463.3" cy="214.5" r="1.2" fill="#6e6e6e"/>
<circle cx="465" cy="216.5" r="1" fill="#6e6e6e"/>
<circle cx="471" cy="217.5" r="1.1" fill="#6e6e6e"/>
<circle cx="472.8" cy="216.6" r="0.8" fill="#6e6e6e"/>
<circle cx="481.8" cy="219.2" r="0.7" fill="#6e6e6e"/>
<circle cx="478.4" cy="215.6" r="0.6" fill="#6e6e6e"/>
<circle cx="474.7" cy="223.4" r="0.6" fill="#6e6e6e"/>
<rect x="473.4" y="231.5" width="1.9" height="1.3" fill="#707070" transform="rotate(-35 474.3 232.2)"/><rect x="476.1" y="233.8" width="1.5" height="1.3" fill="#707070" transform="rotate(-35 476.8 234.4)"/><rect x="476.2" y="228.4" width="1.1" height="1.3" fill="#707070" transform="rotate(-60 476.8 229.1)"/><rect x="471.3" y="239.2" width="1.6" height="1.3" fill="#707070" transform="rotate(-10 472.1 239.8)"/><rect x="464.2" y="242.8" width="1.9" height="1.3" fill="#707070" transform="rotate(-60 465.1 243.5)"/><rect x="478.3" y="236.8" width="1.1" height="1.3" fill="#707070" transform="rotate(20 478.9 237.4)"/><rect x="473.6" y="235.2" width="1.9" height="1.3" fill="#707070" transform="rotate(-60 474.5 235.9)"/><rect x="468.2" y="244.8" width="1.9" height="1.3" fill="#707070" transform="rotate(-10 469.2 245.5)"/><rect x="470.9" y="237.8" width="1.7" height="1.3" fill="#707070" transform="rotate(-35 471.8 238.5)"/><rect x="469.9" y="238.2" width="2.0" height="1.3" fill="#707070" transform="rotate(-10 470.9 238.8)"/><rect x="477.6" y="234.2" width="1.2" height="1.3" fill="#707070" transform="rotate(20 478.2 234.9)"/><rect x="467.7" y="240.5" width="1.6" height="1.3" fill="#707070" transform="rotate(20 468.5 241.2)"/><rect x="463.1" y="239.7" width="1.3" height="1.3" fill="#707070" transform="rotate(20 463.7 240.3)"/><rect x="474.9" y="233.3" width="1.5" height="1.3" fill="#707070" transform="rotate(-35 475.7 234.0)"/><rect x="480.9" y="236.2" width="1.0" height="1.3" fill="#707070" transform="rotate(20 481.4 236.9)"/><rect x="475.8" y="233.5" width="1.8" height="1.3" fill="#707070" transform="rotate(-10 476.7 234.2)"/><rect x="469.6" y="237.5" width="1.0" height="1.3" fill="#707070" transform="rotate(20 470.1 238.2)"/><rect x="467.9" y="239.2" width="1.8" height="1.3" fill="#707070" transform="rotate(20 468.8 239.8)"/><rect x="480.6" y="231.3" width="1.4" height="1.3" fill="#707070" transform="rotate(20 481.3 232.0)"/><rect x="472.2" y="235.2" width="1.7" height="1.3" fill="#707070" transform="rotate(-35 473.1 235.8)"/><rect x="476.7" y="232.9" width="1.9" height="1.3" fill="#707070" transform="rotate(-10 477.6 233.6)"/><rect x="463.4" y="242.8" width="1.9" height="1.3" fill="#707070" transform="rotate(-10 464.3 243.4)"/><rect x="471.8" y="236.8" width="1.3" height="1.3" fill="#707070" transform="rotate(20 472.4 237.4)"/><rect x="469.4" y="238.9" width="1.1" height="1.3" fill="#707070" transform="rotate(-10 470.0 239.6)"/><rect x="476.3" y="234.4" width="1.0" height="1.3" fill="#707070" transform="rotate(20 476.8 235.1)"/><rect x="477.5" y="231.0" width="1.2" height="1.3" fill="#707070" transform="rotate(-60 478.1 231.7)"/><rect x="474.4" y="233.4" width="1.4" height="1.3" fill="#707070" transform="rotate(-10 475.1 234.1)"/><rect x="465.1" y="240.5" width="1.5" height="1.3" fill="#707070" transform="rotate(-10 465.9 241.2)"/><rect x="479.4" y="235.3" width="1.9" height="1.3" fill="#707070" transform="rotate(20 480.3 236.0)"/><rect x="474.1" y="234.2" width="1.4" height="1.3" fill="#707070" transform="rotate(-10 474.8 234.8)"/><rect x="467.1" y="238.4" width="1.5" height="1.3" fill="#707070" transform="rotate(-35 467.9 239.1)"/><rect x="483.4" y="226.9" width="1.5" height="1.3" fill="#707070" transform="rotate(20 484.1 227.6)"/><rect x="471.4" y="234.2" width="1.3" height="1.3" fill="#707070" transform="rotate(-60 472.0 234.9)"/><rect x="471.3" y="238.8" width="2.0" height="1.3" fill="#707070" transform="rotate(-60 472.3 239.5)"/><rect x="477.4" y="230.0" width="1.3" height="1.3" fill="#707070" transform="rotate(20 478.0 230.7)"/><rect x="464.4" y="243.9" width="1.9" height="1.3" fill="#707070" transform="rotate(-35 465.4 244.6)"/><rect x="470.2" y="234.3" width="1.7" height="1.3" fill="#707070" transform="rotate(-10 471.1 235.0)"/><rect x="474.4" y="232.8" width="1.7" height="1.3" fill="#707070" transform="rotate(-60 475.3 233.5)"/><rect x="464.3" y="238.8" width="1.7" height="1.3" fill="#707070" transform="rotate(-35 465.2 239.5)"/><rect x="471.4" y="237.4" width="1.6" height="1.3" fill="#707070" transform="rotate(20 472.2 238.1)"/><rect x="462.2" y="240.8" width="1.7" height="1.3" fill="#707070" transform="rotate(-60 463.1 241.4)"/><rect x="472.3" y="234.0" width="1.8" height="1.3" fill="#707070" transform="rotate(20 473.2 234.7)"/><rect x="466.9" y="235.2" width="1.8" height="1.3" fill="#707070" transform="rotate(-10 467.8 235.9)"/><rect x="471.6" y="234.4" width="1.7" height="1.3" fill="#707070" transform="rotate(-35 472.5 235.1)"/><rect x="481.9" y="230.9" width="1.5" height="1.3" fill="#707070" transform="rotate(20 482.7 231.6)"/><rect x="469.1" y="235.7" width="1.5" height="1.3" fill="#707070" transform="rotate(-60 469.8 236.3)"/><rect x="474.3" y="231.2" width="1.2" height="1.3" fill="#707070" transform="rotate(-35 474.9 231.9)"/><rect x="473.4" y="232.2" width="1.4" height="1.3" fill="#707070" transform="rotate(20 474.1 232.8)"/><rect x="474.1" y="232.3" width="1.7" height="1.3" fill="#707070" transform="rotate(-10 475.0 233.0)"/><rect x="465.3" y="242.8" width="1.7" height="1.3" fill="#707070" transform="rotate(-35 466.2 243.5)"/><rect x="466.3" y="236.5" width="1.0" height="1.3" fill="#707070" transform="rotate(-10 466.8 237.2)"/><rect x="471.6" y="237.2" width="1.1" height="1.3" fill="#707070" transform="rotate(-10 472.2 237.9)"/><rect x="469.7" y="239.3" width="1.0" height="1.3" fill="#707070" transform="rotate(20 470.2 240.0)"/><rect x="468.9" y="238.5" width="1.6" height="1.3" fill="#707070" transform="rotate(20 469.7 239.2)"/><rect x="467.7" y="238.9" width="1.4" height="1.3" fill="#707070" transform="rotate(-60 468.4 239.6)"/><rect x="467.1" y="239.0" width="1.8" height="1.3" fill="#707070" transform="rotate(-60 468.0 239.7)"/><rect x="472.8" y="238.2" width="1.1" height="1.3" fill="#707070" transform="rotate(-35 473.4 238.9)"/><rect x="470.7" y="238.2" width="2.0" height="1.3" fill="#707070" transform="rotate(-10 471.7 238.8)"/><rect x="473.3" y="234.9" width="1.6" height="1.3" fill="#707070" transform="rotate(-10 474.1 235.6)"/><rect x="471.5" y="239.8" width="1.6" height="1.3" fill="#707070" transform="rotate(-10 472.3 240.4)"/>
<rect x="447.5" y="185.6" width="50" height="82.3" fill="none" stroke="#333" stroke-width="1"/>
<text x="489" y="20.9" class="nn" text-anchor="middle">N</text>
<path d="M488.6,23.6 L481.5,46.2 L488.6,38.5 Z" fill="#000"/>
<path d="M488.6,23.6 L495.5,46.5 L488.6,38.5 Z" fill="#fff" stroke="#000" stroke-width="0.9"/>
<text x="218.6" y="194.5" class="lg" text-anchor="middle">Optimized irrigation water</text>
<text x="219.5" y="203" class="lg" text-anchor="middle">per unit area (m<tspan font-size="5" dy="-3">3</tspan><tspan dy="3"> ha</tspan><tspan font-size="5" dy="-3">-1</tspan><tspan dy="3">)</tspan></text>
<rect x="189.7" y="208.6" width="51.2" height="11.5" fill="url(#grad)"/>
<text x="171" y="231.3" class="lg">19652.9</text>
<text x="204.6" y="231.3" class="lg">519.03</text>
<text x="234" y="231.3" class="lg">0.01</text>
<text x="192.3" y="245.2" class="lg" text-anchor="middle">0</text>
<text x="248.2" y="245.2" class="lg" text-anchor="middle">1,000</text>
<text x="303.8" y="245.2" class="lg" text-anchor="middle">2,000</text>
<path d="M192.3,249.6 V254.4 H304 V249.6 M248.3,249.6 V254.4" fill="none" stroke="#444" stroke-width="1"/>
<text x="306.1" y="254.9" class="lg">Kilometer</text>
<text x="232.2" y="106.6" class="rl">Northwest</text>
<text x="271.9" y="166.4" class="rl">Southwest</text>
<text x="345.1" y="175" class="rl">Middle-lower Yangtze</text>
<text x="352.8" y="214.6" class="rl">South</text>
<text x="374.5" y="120.8" class="rl">North</text>
<text x="417" y="70.9" class="rl">Northeast</text>
</g>
<g transform="translate(0,269)">
<polygon points="187.3,72.1 188.2,69.4 197.4,68.5 207.5,69.4 216.6,68.5 226.7,66.6 229.5,63.9 233.1,61.1 233.1,51.1 240.5,51.1 244.1,49.2 248.7,46.5 252.4,42.8 256.9,44.7 261.5,45.6 264.3,41 266.1,39.2 271.6,37.3 275.3,38.2 276.2,43.7 279.8,47.4 284.4,52.9 284.4,60.2 281.7,63.9 286.3,66.6 290,68.2 295.5,71.9 299.2,75.6 301,80.2 302.8,85.6 308.3,87.5 317.5,89.3 326.6,92.1 334,94.8 340.4,97.6 346.8,95.7 354.1,93.9 361.5,92.1 367,89.3 370.6,85.6 372.4,80.2 376.1,77.4 380.5,76.3 385,75.1 389.4,72.9 393.8,70 398.2,67 402.6,64.8 407,63.4 407.7,60.4 404.1,59 399.7,57.5 393.8,57.5 390.1,59 388.7,56 390.9,51.6 391.6,48 396.7,45 401.1,43.6 403.3,38.5 404.1,32.6 405.5,27.5 404.1,24.5 408.5,23.1 415.8,21.6 420.2,23.8 424.6,26 429,28.9 431.9,33.3 434.1,38.5 437.8,41.4 442.2,42.1 446.6,42.9 450.2,46.5 452.4,50.2 456.8,48.7 461.2,45.8 464.9,42.9 468.6,40.7 469.3,44.3 467.8,48.7 467.1,54.6 466.4,60.4 464.2,64.1 461.2,64.8 459.8,67.8 459,73.6 461.2,78 459.8,82.4 456.8,83.9 452.4,85.4 449.5,88.3 448,91.2 445.1,93.4 441.5,95.8 438,98.3 435.4,100.9 432.4,103.8 429.5,106 426.6,107.8 422.9,109.7 420,111.8 418.5,113.3 418.9,110.4 420,108.2 421.4,105.3 421.8,102.3 420,100.9 418.5,100.5 416.3,102.3 414.1,104.5 411.2,106.7 409,109.3 406.1,111.5 403.1,112.6 402,114.8 402.8,117 406.1,118.4 408.3,119.9 409.7,122.1 410.1,124.3 412.7,124.3 415.6,122.1 417,120.6 420,120.3 423.6,120.6 426.6,121 427.7,122.8 427.3,124.7 424.4,125.8 421.4,127.2 419.2,128.7 417.8,130 414.6,133.7 412.4,137.3 411.9,139.2 416,141 419.2,143.7 421.5,148.3 423.8,152.9 426.5,156.5 428.4,159.3 429.3,163 431.6,163 430.2,165.7 428.4,168.4 429.3,172.1 428.4,175.8 427.5,180 425.5,182 421.5,185.7 419.7,193 417,198.5 412.4,201.2 407.8,205.8 402.3,210.4 395,214 388.6,216.8 385.8,218.6 379.4,219.5 373,221.4 367.5,222.3 364.7,225 363.8,228.7 360.2,224.1 354.7,222.3 349.2,221.4 345.7,217.4 342.4,212.5 335.8,210.8 329.2,212.5 324.3,214.1 319.3,215.8 316,220.7 312.7,222.4 309.4,218.3 305.3,217.4 301.2,215.8 300.4,209.2 295.4,205.9 292.9,202.6 295.4,196 299.5,189.4 300.4,183.7 299.5,178.7 296.2,175.4 293.6,176 288.1,177.8 280.8,178.7 273.4,181.5 266.1,182.4 262.4,178.7 257,175 249.6,174.1 244.1,171.4 236.8,168.6 229.5,165.9 224,161.3 216.6,154.9 211.1,149.4 206.6,145.7 202,141.1 197.4,135.6 194.7,130.2 196.5,126.5 199.2,121 201.1,116.1 199.2,110.6 196.5,105.1 192.8,99.6 190,92.3 186.4,88.6 188.2,85 187.3,77.6" fill="#fff"/>
<g clip-path="url(#cn)">
<g filter="url(#sp_haze_2)"><polygon points="296,176 330,168 362,172 400,180 424,180 418,200 400,212 370,222 340,222 310,222 294,205" fill="#b4a8e6" fill-opacity="0.3"/><polygon points="330,132 365,126 385,114 405,108 412,115 428,125 430,165 424,182 362,180 330,162" fill="#b4a8e6" fill-opacity="0.245"/><polygon points="416,46 432,40 448,45 467,44 465,66 459,80 445,92 420,102 395,100 388,82 408,62" fill="#b4a8e6" fill-opacity="0.245"/></g>
<g filter="url(#sp_lcyan_2)"><polygon points="362,172 385,170 408,175 414,186 405,195 380,195 362,190" fill="#8fd8ec" fill-opacity="0.387"/><polygon points="345,198 370,196 398,200 412,203 400,214 372,220 348,220" fill="#8fd8ec" fill-opacity="0.332"/><ellipse cx="362.7" cy="237.6" rx="6" ry="5" fill="#8fd8ec" fill-opacity="0.418"/></g>
<g filter="url(#sp_cyan_2)"><polygon points="380,122 398,120 408,130 408,145 400,150 384,150 378,138" fill="#55e6f2" fill-opacity="0.5"/><polygon points="351,141 362,139 374,141 372,147 355,147" fill="#55e6f2" fill-opacity="0.526"/><ellipse cx="337" cy="161" rx="4" ry="4" fill="#55e6f2" fill-opacity="0.447"/><ellipse cx="208" cy="95" rx="2" ry="2" fill="#55e6f2" fill-opacity="0.447"/><ellipse cx="214" cy="102" rx="1.5" ry="1.5" fill="#55e6f2" fill-opacity="0.418"/></g>
<g filter="url(#sp_blue_2)"><polygon points="390,134 405,136 408,150 392,150" fill="#3c3cf0" fill-opacity="0.354"/><polygon points="418,58 430,55 442,62 442,80 436,92 424,92 417,78" fill="#3c3cf0" fill-opacity="0.474"/><polygon points="403,80 420,78 432,90 430,101 410,101" fill="#3c3cf0" fill-opacity="0.265"/><ellipse cx="390" cy="100" rx="6" ry="4" fill="#3c3cf0" fill-opacity="0.387"/><polygon points="405,40 414,40 415,58 408,58" fill="#3c3cf0" fill-opacity="0.2"/><polygon points="300,96 330,100 360,104 372,110 360,118 320,114 300,108" fill="#3c3cf0" fill-opacity="0.158"/><polygon points="365,172 395,172 400,190 375,192 362,182" fill="#3c3cf0" fill-opacity="0.224"/><polygon points="238,55 270,52 285,70 270,75 245,70" fill="#3c3cf0" fill-opacity="0.122"/><ellipse cx="388" cy="103" rx="6" ry="3.5" fill="#3c3cf0" fill-opacity="0.354"/></g>
<g filter="url(#sp_purple_2)"><polygon points="422,40 435,38 446,50 446,75 438,85 425,80 420,60" fill="#8c3ee6" fill-opacity="0.418"/><polygon points="449,45 467,41 467,58 460,66 450,66" fill="#8c3ee6" fill-opacity="0.474"/><polygon points="403,80 420,78 432,90 430,101 410,101" fill="#8c3ee6" fill-opacity="0.3"/><polygon points="400,142 415,142 422,152 424,165 410,166 398,156" fill="#8c3ee6" fill-opacity="0.447"/><polygon points="330,163 342,160 356,162 358,176 345,180 330,178" fill="#8c3ee6" fill-opacity="0.458"/><polygon points="372,162 388,161 390,175 374,176" fill="#8c3ee6" fill-opacity="0.5"/><polygon points="362,156 395,160 405,172 395,180 370,178 362,170" fill="#8c3ee6" fill-opacity="0.274"/><polygon points="320,185 350,182 360,195 350,210 322,210" fill="#8c3ee6" fill-opacity="0.245"/><polygon points="372,100 392,98 410,92 424,92 420,102 395,108 375,110" fill="#8c3ee6" fill-opacity="0.274"/><ellipse cx="343" cy="137.5" rx="5" ry="3.5" fill="#8c3ee6" fill-opacity="0.354"/></g>
<g filter="url(#sp_magenta_2)"><polygon points="449,45 467,41 467,58 460,66 450,66" fill="#e040f0" fill-opacity="0.354"/><polygon points="384,149 395,148 408,150 408,156 395,157 384,155" fill="#e040f0" fill-opacity="0.613"/><polygon points="405,145 418,148 422,160 412,162" fill="#e040f0" fill-opacity="0.332"/><ellipse cx="345" cy="170" rx="7" ry="6" fill="#e040f0" fill-opacity="0.265"/></g>
</g>
<polyline points="201.1,116.1 202.53,114.46 203.8,112.7 205.63,112.35 207.49,112.25 209.3,111.8 211.08,111.05 213,110.9 214.56,111.48 216.22,111.72 217.78,112.32 219.4,112.7 221.07,112.95 222.63,113.55 224.25,113.97 225.8,114.6 227.23,115.17 228.48,116.09 229.93,116.61 231.3,117.3 233.09,117.85 234.94,117.81 236.8,117.78 238.6,118.2 240.46,118.05 242.3,117.77 244.12,117.28 246,117.3 247.82,117.54 249.69,117.41 251.49,117.89 253.3,118.2 254.66,118.92 255.99,119.72 257.28,120.59 258.8,121 259.63,122.89 260.6,124.7 260.93,126.53 260.62,128.37 260.6,130.2 259.86,132.08 258.8,133.8 259.88,135.15 261,136.46 262.4,137.5 264.03,138.17 265.26,139.5 266.92,140.14 268.44,140.99 269.8,142.1 271.27,142.79 272.75,143.49 274.25,144.13 275.71,144.83 277.1,145.7 278.58,146.22 279.97,146.94 281.56,147.16 282.97,147.86 284.4,148.5 285.87,149.25 287.06,150.43 288.62,151.05 289.9,152.1 291.83,153.15 293.9,153.9 295.06,152.82 296.69,152.51 297.9,151.5 298.07,149.96 298.63,148.48 298.76,146.93 299,145.4 298.66,143.79 299.2,142.3 300.6,141.49 301.8,140.4 303.14,141.71 304.5,143 305.13,144.67 306.19,146.09 307.1,147.6 308.46,148.33 309.55,149.49 310.81,150.37 312.3,150.9 314.33,151.01 316.3,151.5 317.29,150.34 318.57,149.52 319.82,148.66 320.9,147.6 322.4,146.11 324.2,145 325.54,144.05 326.8,143 329.4,144.3 330.68,145.97 332,147.6 332.94,149.04 334.39,150.04 335.3,151.5 336.9,151.69 338.36,152.38 339.9,152.8 341.64,153.21 343.43,153.33 345.2,153.5 346.8,154.16 348.55,154.34 350.24,154.69 351.8,155.5 353.49,156.26 355.23,156.86 357,157.4 358.67,157.76 360.18,158.47 361.6,159.4" class="il"/>
<polyline points="308.3,87.5 308.28,89.33 308.24,91.17 308.3,93 308.71,94.91 309.3,96.76 310.2,98.5 311.88,99.64 313.8,100.3 315.69,101.11 317.5,102.1 316.32,103.81 315.7,105.8 316.64,107.15 317.61,108.48 318.64,109.77 319.3,111.3 320.76,111.67 322.28,111.79 323.72,112.23 325.12,112.82 326.6,113.1 328.17,112.99 329.7,112.67 331.2,112.2 332.8,113.4 334,115 333.85,116.87 333.1,118.6 334.15,120.38 334.9,122.3 336.56,122.44 338.22,122.74 339.9,122.6 341.46,123.11 343.1,123.2 344.3,122.02 345,120.5 345.36,118.68 345.69,116.85 345.9,115 347.17,113.93 348.6,113.1 349.18,114.92 349.5,116.8 349.25,118.7 348.6,120.5 350.44,120.97 352.3,121.4 354.15,121.17 355.97,120.85 357.8,120.5 358.98,119.21 360.23,118 361.5,116.8 362.57,115.44 364.06,114.49 365.1,113.1 366.94,112.86 368.79,112.67 370.6,112.2 369.94,113.74 369.85,115.44 369.51,117.07 368.8,118.6 368.63,120.18 367.89,121.64 367.65,123.21 367.6,124.81 367.03,126.31 366.9,127.9 366.87,129.49 366.37,131.04 366.77,132.67 366.17,134.21 366.2,135.8 366.01,137.39 366.54,138.91 366.65,140.48 367.02,142.02 366.9,143.6 367.68,145.31 368.34,147.07 368.8,148.9 369.58,150.5 370.1,152.2 367.5,150.9 366.01,151.4 364.45,151.44 362.9,151.5 362.87,153.54 362.3,155.5 361.93,157.45 361.6,159.4" class="il"/>
<polyline points="408.5,23.1 409.83,24.76 410.7,26.7 412.34,28.02 413.6,29.7 415,31.2 416.5,32.6 418.17,32.14 419.87,31.88 421.6,31.9 423.46,32.58 425.3,33.3 426.44,34.36 427.5,35.5 427.7,37.7 427.5,39.9 427.34,41.88 426.8,43.81 426.8,45.8 426.79,47.77 426.48,49.7 426,51.6 424.79,53.33 423.1,54.6 422.15,56.16 420.9,57.5 420.4,59.08 419.4,60.4 418.39,61.76 418,63.4 418.48,65.58 418.7,67.8 418.13,69.45 418.49,71.24 418,72.9 418.86,74.89 420.2,76.6 421.65,78.05 423.1,79.5 423.71,81.03 424.47,82.48 425.3,83.9 424.95,85.42 424.48,86.89 423.8,88.3 422.52,89.17 421.56,90.43 420.2,91.2 418.89,92.24 417.18,92.5 415.8,93.4 414.01,93.84 412.32,94.63 410.5,95 409.34,96.49 408.2,98 407.38,99.4 407.1,101 406.95,102.53 406.5,104 407.25,105.42 407.5,107 409,109.3" class="il"/>
<polyline points="418.5,113.3 417.9,116.2 417.83,118.07 417.4,119.9" class="il"/>
<polyline points="370.1,152.2 372.1,153.1 373.57,153.61 375.01,154.22 376.38,155 377.95,155.24 379.4,155.8 380.77,156.5 382.12,157.25 383.63,157.7 384.9,158.6 386.73,159.21 388.54,159.89 390.4,160.4 391.65,159.45 392.4,158 393.6,157 394.6,155.8 395.9,154.9 396.71,153.13 397.23,151.28 397.7,149.4 398,147.47 399.22,145.84 399.5,143.9 400.93,143.26 402.03,142.19 403.2,141.2 405.09,140.32 406.9,139.3 408.57,138.57 410.27,137.97 412.1,137.8" class="il"/>
<polyline points="361.6,159.4 362.2,161.13 362.34,162.96 362.9,164.7 362.42,166.25 361.96,167.8 362.06,169.47 361.5,171 361.36,172.86 361.09,174.69 360.71,176.51 360.2,178.3 360.19,179.85 360.76,181.34 360.63,182.9 361,184.41 361.09,185.95 361.1,187.5 360.92,189.33 360.42,191.12 360.35,192.97 360.2,194.8 358.98,195.8 357.52,196.34 356.19,197.12 354.7,197.6 353.13,197.9 351.67,198.48 350.19,199.02 348.7,199.55 347.3,200.3 345.67,200.06 344.05,199.85 342.4,200.1 340.67,200.47 339.12,201.39 337.4,201.8 335.66,202.2 334.1,203.06 332.39,203.51 330.8,204.3 331.87,205.4 333.03,206.4 334.1,207.5 335.03,209.11 335.8,210.8" class="il"/>
<polyline points="360.2,194.8 362.02,195 363.8,195.39 365.6,195.7 367.14,195.94 368.67,196.26 370.2,196.6 371.64,197.96 373,199.4 374.84,199.28 376.63,198.78 378.49,198.82 380.3,198.5 381.84,198.53 383.25,199.09 384.71,199.47 386.2,199.7 387.6,200.3 388.73,201.37 390.15,202.06 391.3,203.1 393.2,202.8 395,202.1 396.39,201.46 397.3,200.16 398.6,199.4 399.1,197.84 399.26,196.23 399.39,194.62 399.5,193 399.75,191.42 400.59,190.07 401.26,188.65 401.61,187.11 402.3,185.7 403.4,184.33 404.67,183.14 406,182 407.81,181.53 409.7,181.6 411.5,181.1 413.33,181.45 415.1,182 416.53,182.85 417.9,183.8 419.18,185.27 420.6,186.6" class="il"/>
<polygon points="187.3,72.1 188.2,69.4 190.02,68.99 191.88,69.08 193.71,68.74 195.57,68.77 197.4,68.5 199.07,68.76 200.8,68.41 202.49,68.51 204.11,69.4 205.84,69.03 207.5,69.4 209.3,68.98 211.18,69.48 212.96,68.83 214.81,68.98 216.6,68.5 218.28,68.16 219.99,67.99 221.59,67.24 223.36,67.35 225.08,67.24 226.7,66.6 228.11,65.27 229.5,63.9 231.43,62.67 233.1,61.1 233.25,59.43 232.71,57.77 233.33,56.1 233.18,54.43 232.92,52.77 233.1,51.1 234.95,50.68 236.8,51.43 238.65,51.08 240.5,51.1 242.39,50.32 244.1,49.2 245.81,48.59 247.26,47.57 248.7,46.5 250.2,45.53 251.1,43.97 252.4,42.8 253.79,43.68 255.42,44.02 256.9,44.7 259.12,45.53 261.5,45.6 262.72,44.24 263.06,42.34 264.3,41 266.1,39.2 267.83,38.26 269.68,37.69 271.6,37.3 273.35,38.16 275.3,38.2 275.66,40.02 275.79,41.89 276.2,43.7 277.53,44.81 278.6,46.17 279.8,47.4 281.03,48.71 282.2,50.06 283.19,51.57 284.4,52.9 284.32,54.73 284.04,56.55 284.24,58.38 284.4,60.2 282.74,61.82 281.7,63.9 283.07,65.08 284.54,66.08 286.3,66.6 288.09,67.54 290,68.2 291.54,68.87 292.57,70.32 293.89,71.32 295.5,71.9 296.48,73.39 297.92,74.41 299.2,75.6 299.62,77.2 300.64,78.57 301,80.2 301.32,82.09 302.14,83.82 302.8,85.6 304.7,86.05 306.59,86.5 308.3,87.5 310.08,88.17 311.9,88.65 313.89,88.22 315.61,89.21 317.5,89.3 319.34,89.78 321.23,90.12 323.01,90.8 324.71,91.77 326.6,92.1 328.34,93.09 330.44,93.06 332.11,94.22 334,94.8 335.76,95.12 337.12,96.38 338.86,96.76 340.4,97.6 342.1,97.45 343.72,97.06 345.2,96.18 346.8,95.7 348.73,95.69 350.41,94.63 352.18,93.98 354.1,93.9 355.97,93.54 357.7,92.59 359.59,92.29 361.5,92.1 363.3,91.09 365.21,90.32 367,89.3 367.98,87.85 369.1,86.55 370.6,85.6 371.51,83.9 371.64,81.95 372.4,80.2 374.5,79.13 376.1,77.4 378.39,77.2 380.5,76.3 382.72,75.59 385,75.1 386.45,74.33 387.94,73.65 389.4,72.9 390.94,72.04 392.38,71.04 393.8,70 395.3,69.04 396.79,68.09 398.2,67 399.84,66.62 401.14,65.54 402.6,64.8 404.78,64.04 407,63.4 407.7,60.4 405.97,59.52 404.1,59 401.82,58.47 399.7,57.5 397.73,57.68 395.77,57.07 393.8,57.5 391.94,58.23 390.1,59 389.44,57.48 388.7,56 389.04,54.34 390.1,53.03 390.9,51.6 391.32,49.81 391.6,48 393.08,46.63 395.05,46.09 396.7,45 398.94,44.41 401.1,43.6 401.47,41.74 402.67,40.25 403.3,38.5 403.54,36.53 403.99,34.59 404.1,32.6 404.44,30.86 405.21,29.25 405.5,27.5 404.99,25.91 404.1,24.5 406.17,23.39 408.5,23.1 410.25,22.34 412.18,22.51 414.06,22.38 415.8,21.6 417.37,22.13 418.75,23.03 420.2,23.8 421.63,24.61 423.21,25.12 424.6,26 426.13,26.86 427.63,27.79 429,28.9 430.06,30.3 430.86,31.88 431.9,33.3 432.8,34.96 433.47,36.72 434.1,38.5 435.8,40.14 437.8,41.4 440.07,41.33 442.2,42.1 444.39,42.56 446.6,42.9 447.65,44.25 449.12,45.18 450.2,46.5 451.51,48.22 452.4,50.2 454.69,49.71 456.8,48.7 458.14,47.54 459.58,46.53 461.2,45.8 463.01,44.3 464.9,42.9 466.84,41.95 468.6,40.7 469.3,42.43 469.3,44.3 468.7,46.55 467.8,48.7 467.72,50.68 467.04,52.6 467.1,54.6 466.92,56.54 466.32,58.43 466.4,60.4 465.56,62.4 464.2,64.1 461.2,64.8 460.63,66.36 459.8,67.8 459.4,69.71 458.92,71.62 459,73.6 459.77,75.05 460.69,76.42 461.2,78 460.83,80.3 459.8,82.4 458.29,83.13 456.8,83.9 454.69,84.91 452.4,85.4 450.75,86.65 449.5,88.3 448.48,89.61 448,91.2 446.72,92.53 445.1,93.4 443.41,94.77 441.5,95.8 439.59,96.82 438,98.3 436.61,99.51 435.4,100.9 433.71,102.15 432.4,103.8 431.03,105.01 429.5,106 428.23,107.18 426.6,107.8 424.84,108.92 422.9,109.7 421.29,110.54 420,111.8 418.5,113.3 418.9,110.4 420,108.2 420.51,106.66 421.4,105.3 421.8,102.3 420,100.9 418.5,100.5 416.3,102.3 414.1,104.5 412.73,105.71 411.2,106.7 410.16,108.05 409,109.3 407.59,110.46 406.1,111.5 403.1,112.6 402,114.8 402.8,117 404.48,117.63 406.1,118.4 408.3,119.9 409.7,122.1 410.1,124.3 412.7,124.3 414.38,123.5 415.6,122.1 417,120.6 420,120.3 421.83,120.14 423.6,120.6 426.6,121 427.7,122.8 427.3,124.7 424.4,125.8 423.09,126.9 421.4,127.2 419.2,128.7 417.8,130 416.43,130.97 415.41,132.24 414.6,133.7 413.13,135.27 412.4,137.3 411.9,139.2 413.97,140.05 416,141 417.34,142.66 419.2,143.7 419.62,145.41 420.96,146.65 421.5,148.3 422.07,149.93 422.76,151.5 423.8,152.9 425.03,154.79 426.5,156.5 427.44,157.91 428.4,159.3 429.03,161.11 429.3,163 431.6,163 430.2,165.7 429.42,167.13 428.4,168.4 429.09,170.19 429.3,172.1 429.23,174.04 428.4,175.8 427.87,177.88 427.5,180 425.5,182 424.3,183.37 422.64,184.26 421.5,185.7 421.45,187.62 420.25,189.26 419.98,191.13 419.7,193 418.46,194.67 417.58,196.51 417,198.5 415.28,199.09 413.9,200.24 412.4,201.2 411.56,202.66 409.94,203.34 409.16,204.86 407.8,205.8 406.54,207.09 404.96,207.99 403.66,209.23 402.3,210.4 400.87,211.19 399.21,211.49 397.88,212.47 396.52,213.41 395,214 393.49,214.9 391.67,215.1 390.21,216.12 388.6,216.8 387.06,217.49 385.8,218.6 384.22,218.96 382.64,219.32 381,219.24 379.4,219.5 377.72,219.7 376.28,220.73 374.53,220.67 373,221.4 371.11,221.33 369.29,221.73 367.5,222.3 365.9,223.44 364.7,225 364.68,226.95 363.8,228.7 362.69,227.1 361.66,225.43 360.2,224.1 358.24,223.88 356.47,223.1 354.7,222.3 352.83,222.21 351.04,221.68 349.2,221.4 347.98,220.11 346.85,218.75 345.7,217.4 344.81,215.63 343.13,214.38 342.4,212.5 340.65,212.46 339.02,211.98 337.37,211.55 335.8,210.8 334.25,211.6 332.39,211.24 330.77,211.77 329.2,212.5 327.68,213.39 325.93,213.56 324.3,214.1 322.69,214.82 321.02,215.39 319.3,215.8 318.31,217.51 316.99,218.99 316,220.7 314.31,221.48 312.7,222.4 311.5,221.11 310.28,219.84 309.4,218.3 307.32,218 305.3,217.4 303.13,216.92 301.2,215.8 301.05,214.14 300.99,212.48 300.49,210.86 300.4,209.2 298.53,208.42 296.91,207.24 295.4,205.9 294.06,204.32 292.9,202.6 293.61,200.98 294.39,199.39 294.67,197.61 295.4,196 296.66,194.49 297.54,192.76 298.42,191.02 299.5,189.4 299.69,187.48 300.1,185.6 300.4,183.7 300.28,182 299.73,180.38 299.5,178.7 297.97,176.93 296.2,175.4 293.6,176 291.78,176.63 290,177.42 288.1,177.8 286.27,177.99 284.43,178.08 282.67,178.86 280.8,178.7 278.97,179.46 277.12,180.16 275.13,180.48 273.4,181.5 271.53,181.34 269.76,182.06 267.88,181.82 266.1,182.4 265.05,180.98 263.48,180.08 262.4,178.7 261.03,177.8 259.51,177.13 258.51,175.69 257,175 255.17,174.63 253.34,174.2 251.48,174.06 249.6,174.1 247.83,173.06 246.03,172.11 244.1,171.4 242.3,170.65 240.32,170.33 238.65,169.23 236.8,168.6 234.82,168.34 233.04,167.55 231.41,166.34 229.5,165.9 227.86,165.06 226.51,163.88 225.14,162.73 224,161.3 222.99,159.97 221.34,159.39 220.02,158.42 219.27,156.8 217.61,156.22 216.6,154.9 215.44,153.31 213.96,152.04 212.69,150.56 211.1,149.4 209.86,147.85 208.15,146.88 206.6,145.7 205.64,144.36 204,143.7 203.32,142.08 202,141.1 200.86,139.72 199.85,138.23 198.28,137.2 197.4,135.6 196.7,133.7 195.95,131.83 194.7,130.2 195.24,128.18 196.5,126.5 197.26,124.6 198.35,122.86 199.2,121 200.11,119.47 200.25,117.65 201.1,116.1 200.19,114.36 199.62,112.51 199.2,110.6 198.39,108.72 197.6,106.83 196.5,105.1 195.5,103.78 194.55,102.42 193.65,101.03 192.8,99.6 191.97,97.82 191.33,95.98 190.35,94.26 190,92.3 188.8,91.07 187.91,89.54 186.4,88.6 187.23,86.76 188.2,85 188.2,83.12 187.45,81.34 187.7,79.43 187.3,77.6 187.53,75.77 187.46,73.93" class="ol"/>
<path d="M355.5,233 C357,231 361,231 364,231.5 C367,231.5 370,232 370.5,234.5 C370,238 367,241 364,242.5 C360,244 356.5,243.5 355.3,241 C354.5,238.5 354.5,235 355.5,233 Z" class="isl" fill="#e6f6f6"/>
<path d="M429.4,197.4 L431.4,199 L431,204 L430.2,208.9 L429,213.9 L426.5,218.8 L424.4,216.3 L422,213 L421.5,208.1 L423.2,203.1 L425.7,199 Z" fill="#fff" stroke="#777" stroke-width="1.1"/>
<line x1="434.7" y1="201.5" x2="436.4" y2="208.9" class="ds"/>
<line x1="428.6" y1="225.4" x2="433.1" y2="219.6" class="ds"/>
<line x1="438.9" y1="194" x2="441.3" y2="192.4" class="ds"/>
<line x1="423" y1="237.5" x2="419.5" y2="243.5" class="ds"/>
<line x1="417.9" y1="255.5" x2="417.9" y2="262.8" class="ds"/>
<line x1="359.5" y1="255.5" x2="363" y2="262.5" class="ds"/>
<circle cx="417.8" cy="209.7" r="1" fill="#7a7a7a"/>
<circle cx="431.9" cy="195.3" r="1" fill="#7a7a7a"/>
<circle cx="398.2" cy="226" r="1" fill="#7a7a7a"/>
<circle cx="403.3" cy="227.7" r="1" fill="#7a7a7a"/>
<circle cx="381.4" cy="235.3" r="1" fill="#7a7a7a"/>
<circle cx="386.5" cy="237.7" r="1" fill="#7a7a7a"/>
<circle cx="373" cy="252" r="1" fill="#7a7a7a"/>
<circle cx="375.5" cy="254.5" r="1" fill="#7a7a7a"/>
<circle cx="377" cy="251" r="1" fill="#7a7a7a"/>
<circle cx="378" cy="257" r="1" fill="#7a7a7a"/>
<circle cx="388" cy="258" r="1" fill="#7a7a7a"/>
<circle cx="391" cy="256" r="1" fill="#7a7a7a"/>
<circle cx="389.5" cy="260" r="1" fill="#7a7a7a"/>
<circle cx="404" cy="254.7" r="1" fill="#7a7a7a"/>
<circle cx="409.9" cy="261.6" r="1" fill="#7a7a7a"/>
<polygon points="447.5,185.9 448,195.4 449.5,197.5 450.8,198.7 452.5,198.8 454.9,199.9 456.5,199.6 458.2,200.7 460,200.2 461.5,199.9 463.5,200 466.4,199.1 468.5,198.3 470.6,196.6 473,196.4 475.5,195.4 477.5,194.5 479.6,192.9 481.5,191.2 482.9,189.6 484.5,188.2 486.2,186.3 487,185.9" fill="#e2e2e2"/><polyline points="448,195.4 449.5,197.5 450.8,198.7 452.5,198.8 454.9,199.9 456.5,199.6 458.2,200.7 460,200.2 461.5,199.9 463.5,200 466.4,199.1 468.5,198.3 470.6,196.6 473,196.4 475.5,195.4 477.5,194.5 479.6,192.9 481.5,191.2 482.9,189.6 484.5,188.2 486.2,186.3 487,185.9" fill="none" stroke="#686868" stroke-width="1.6" stroke-linejoin="round"/>
<path d="M455.5,205 C457,203.3 460,203 461.3,204.5 C461.8,206.5 460.5,209 458,210 C456,210.5 454.6,209.2 454.6,207.5 Z" fill="#e2e2e2" stroke="#6e6e6e" stroke-width="1"/>
<path d="M458.2,200.7 L459.2,203.5" stroke="#6e6e6e" stroke-width="1.3"/>
<path d="M490.5,188.2 L492.6,189.5 L492,194 L490.8,198.3 L489,196.5 L488.2,192.5 Z" fill="#fff" stroke="#6e6e6e" stroke-width="0.9"/>
<line x1="494.5" y1="189.6" x2="494.9" y2="192.9" stroke="#6e6e6e" stroke-width="1.3" stroke-linecap="round"/>
<line x1="491.2" y1="197.8" x2="492.4" y2="200.7" stroke="#6e6e6e" stroke-width="1.3" stroke-linecap="round"/>
<line x1="486.6" y1="206.9" x2="488.3" y2="210.2" stroke="#6e6e6e" stroke-width="1.3" stroke-linecap="round"/>
<line x1="485.4" y1="216" x2="485.8" y2="220.1" stroke="#6e6e6e" stroke-width="1.3" stroke-linecap="round"/>
<line x1="456.5" y1="216" x2="458.2" y2="219.7" stroke="#6e6e6e" stroke-width="1.3" stroke-linecap="round"/>
<line x1="459.1" y1="228.6" x2="458.8" y2="231.7" stroke="#6e6e6e" stroke-width="1.3" stroke-linecap="round"/>
<line x1="485.4" y1="229.5" x2="484.6" y2="232.5" stroke="#6e6e6e" stroke-width="1.3" stroke-linecap="round"/>
<line x1="452.9" y1="244.4" x2="453.2" y2="248.4" stroke="#6e6e6e" stroke-width="1.3" stroke-linecap="round"/>
<line x1="456.4" y1="243.8" x2="460.8" y2="241.3" stroke="#6e6e6e" stroke-width="1.3" stroke-linecap="round"/>
<line x1="466.1" y1="247.5" x2="465.8" y2="251" stroke="#6e6e6e" stroke-width="1.3" stroke-linecap="round"/>
<line x1="463.5" y1="256.3" x2="467.8" y2="254.5" stroke="#6e6e6e" stroke-width="1.3" stroke-linecap="round"/>
<circle cx="476" cy="201.6" r="0.8" fill="#6e6e6e"/>
<circle cx="478.3" cy="202.3" r="0.7" fill="#6e6e6e"/>
<circle cx="468" cy="206.6" r="0.7" fill="#6e6e6e"/>
<circle cx="470" cy="207" r="0.6" fill="#6e6e6e"/>
<circle cx="463.3" cy="214.5" r="1.2" fill="#6e6e6e"/>
<circle cx="465" cy="216.5" r="1" fill="#6e6e6e"/>
<circle cx="471" cy="217.5" r="1.1" fill="#6e6e6e"/>
<circle cx="472.8" cy="216.6" r="0.8" fill="#6e6e6e"/>
<circle cx="481.8" cy="219.2" r="0.7" fill="#6e6e6e"/>
<circle cx="478.4" cy="215.6" r="0.6" fill="#6e6e6e"/>
<circle cx="474.7" cy="223.4" r="0.6" fill="#6e6e6e"/>
<rect x="473.4" y="231.5" width="1.9" height="1.3" fill="#707070" transform="rotate(-35 474.3 232.2)"/><rect x="476.1" y="233.8" width="1.5" height="1.3" fill="#707070" transform="rotate(-35 476.8 234.4)"/><rect x="476.2" y="228.4" width="1.1" height="1.3" fill="#707070" transform="rotate(-60 476.8 229.1)"/><rect x="471.3" y="239.2" width="1.6" height="1.3" fill="#707070" transform="rotate(-10 472.1 239.8)"/><rect x="464.2" y="242.8" width="1.9" height="1.3" fill="#707070" transform="rotate(-60 465.1 243.5)"/><rect x="478.3" y="236.8" width="1.1" height="1.3" fill="#707070" transform="rotate(20 478.9 237.4)"/><rect x="473.6" y="235.2" width="1.9" height="1.3" fill="#707070" transform="rotate(-60 474.5 235.9)"/><rect x="468.2" y="244.8" width="1.9" height="1.3" fill="#707070" transform="rotate(-10 469.2 245.5)"/><rect x="470.9" y="237.8" width="1.7" height="1.3" fill="#707070" transform="rotate(-35 471.8 238.5)"/><rect x="469.9" y="238.2" width="2.0" height="1.3" fill="#707070" transform="rotate(-10 470.9 238.8)"/><rect x="477.6" y="234.2" width="1.2" height="1.3" fill="#707070" transform="rotate(20 478.2 234.9)"/><rect x="467.7" y="240.5" width="1.6" height="1.3" fill="#707070" transform="rotate(20 468.5 241.2)"/><rect x="463.1" y="239.7" width="1.3" height="1.3" fill="#707070" transform="rotate(20 463.7 240.3)"/><rect x="474.9" y="233.3" width="1.5" height="1.3" fill="#707070" transform="rotate(-35 475.7 234.0)"/><rect x="480.9" y="236.2" width="1.0" height="1.3" fill="#707070" transform="rotate(20 481.4 236.9)"/><rect x="475.8" y="233.5" width="1.8" height="1.3" fill="#707070" transform="rotate(-10 476.7 234.2)"/><rect x="469.6" y="237.5" width="1.0" height="1.3" fill="#707070" transform="rotate(20 470.1 238.2)"/><rect x="467.9" y="239.2" width="1.8" height="1.3" fill="#707070" transform="rotate(20 468.8 239.8)"/><rect x="480.6" y="231.3" width="1.4" height="1.3" fill="#707070" transform="rotate(20 481.3 232.0)"/><rect x="472.2" y="235.2" width="1.7" height="1.3" fill="#707070" transform="rotate(-35 473.1 235.8)"/><rect x="476.7" y="232.9" width="1.9" height="1.3" fill="#707070" transform="rotate(-10 477.6 233.6)"/><rect x="463.4" y="242.8" width="1.9" height="1.3" fill="#707070" transform="rotate(-10 464.3 243.4)"/><rect x="471.8" y="236.8" width="1.3" height="1.3" fill="#707070" transform="rotate(20 472.4 237.4)"/><rect x="469.4" y="238.9" width="1.1" height="1.3" fill="#707070" transform="rotate(-10 470.0 239.6)"/><rect x="476.3" y="234.4" width="1.0" height="1.3" fill="#707070" transform="rotate(20 476.8 235.1)"/><rect x="477.5" y="231.0" width="1.2" height="1.3" fill="#707070" transform="rotate(-60 478.1 231.7)"/><rect x="474.4" y="233.4" width="1.4" height="1.3" fill="#707070" transform="rotate(-10 475.1 234.1)"/><rect x="465.1" y="240.5" width="1.5" height="1.3" fill="#707070" transform="rotate(-10 465.9 241.2)"/><rect x="479.4" y="235.3" width="1.9" height="1.3" fill="#707070" transform="rotate(20 480.3 236.0)"/><rect x="474.1" y="234.2" width="1.4" height="1.3" fill="#707070" transform="rotate(-10 474.8 234.8)"/><rect x="467.1" y="238.4" width="1.5" height="1.3" fill="#707070" transform="rotate(-35 467.9 239.1)"/><rect x="483.4" y="226.9" width="1.5" height="1.3" fill="#707070" transform="rotate(20 484.1 227.6)"/><rect x="471.4" y="234.2" width="1.3" height="1.3" fill="#707070" transform="rotate(-60 472.0 234.9)"/><rect x="471.3" y="238.8" width="2.0" height="1.3" fill="#707070" transform="rotate(-60 472.3 239.5)"/><rect x="477.4" y="230.0" width="1.3" height="1.3" fill="#707070" transform="rotate(20 478.0 230.7)"/><rect x="464.4" y="243.9" width="1.9" height="1.3" fill="#707070" transform="rotate(-35 465.4 244.6)"/><rect x="470.2" y="234.3" width="1.7" height="1.3" fill="#707070" transform="rotate(-10 471.1 235.0)"/><rect x="474.4" y="232.8" width="1.7" height="1.3" fill="#707070" transform="rotate(-60 475.3 233.5)"/><rect x="464.3" y="238.8" width="1.7" height="1.3" fill="#707070" transform="rotate(-35 465.2 239.5)"/><rect x="471.4" y="237.4" width="1.6" height="1.3" fill="#707070" transform="rotate(20 472.2 238.1)"/><rect x="462.2" y="240.8" width="1.7" height="1.3" fill="#707070" transform="rotate(-60 463.1 241.4)"/><rect x="472.3" y="234.0" width="1.8" height="1.3" fill="#707070" transform="rotate(20 473.2 234.7)"/><rect x="466.9" y="235.2" width="1.8" height="1.3" fill="#707070" transform="rotate(-10 467.8 235.9)"/><rect x="471.6" y="234.4" width="1.7" height="1.3" fill="#707070" transform="rotate(-35 472.5 235.1)"/><rect x="481.9" y="230.9" width="1.5" height="1.3" fill="#707070" transform="rotate(20 482.7 231.6)"/><rect x="469.1" y="235.7" width="1.5" height="1.3" fill="#707070" transform="rotate(-60 469.8 236.3)"/><rect x="474.3" y="231.2" width="1.2" height="1.3" fill="#707070" transform="rotate(-35 474.9 231.9)"/><rect x="473.4" y="232.2" width="1.4" height="1.3" fill="#707070" transform="rotate(20 474.1 232.8)"/><rect x="474.1" y="232.3" width="1.7" height="1.3" fill="#707070" transform="rotate(-10 475.0 233.0)"/><rect x="465.3" y="242.8" width="1.7" height="1.3" fill="#707070" transform="rotate(-35 466.2 243.5)"/><rect x="466.3" y="236.5" width="1.0" height="1.3" fill="#707070" transform="rotate(-10 466.8 237.2)"/><rect x="471.6" y="237.2" width="1.1" height="1.3" fill="#707070" transform="rotate(-10 472.2 237.9)"/><rect x="469.7" y="239.3" width="1.0" height="1.3" fill="#707070" transform="rotate(20 470.2 240.0)"/><rect x="468.9" y="238.5" width="1.6" height="1.3" fill="#707070" transform="rotate(20 469.7 239.2)"/><rect x="467.7" y="238.9" width="1.4" height="1.3" fill="#707070" transform="rotate(-60 468.4 239.6)"/><rect x="467.1" y="239.0" width="1.8" height="1.3" fill="#707070" transform="rotate(-60 468.0 239.7)"/><rect x="472.8" y="238.2" width="1.1" height="1.3" fill="#707070" transform="rotate(-35 473.4 238.9)"/><rect x="470.7" y="238.2" width="2.0" height="1.3" fill="#707070" transform="rotate(-10 471.7 238.8)"/><rect x="473.3" y="234.9" width="1.6" height="1.3" fill="#707070" transform="rotate(-10 474.1 235.6)"/><rect x="471.5" y="239.8" width="1.6" height="1.3" fill="#707070" transform="rotate(-10 472.3 240.4)"/>
<rect x="447.5" y="185.6" width="50" height="82.3" fill="none" stroke="#333" stroke-width="1"/>
<text x="489" y="20.9" class="nn" text-anchor="middle">N</text>
<path d="M488.6,23.6 L481.5,46.2 L488.6,38.5 Z" fill="#000"/>
<path d="M488.6,23.6 L495.5,46.5 L488.6,38.5 Z" fill="#fff" stroke="#000" stroke-width="0.9"/>
<text x="218.6" y="194.5" class="lg" text-anchor="middle">Optimized irrigation water</text>
<text x="219.5" y="203" class="lg" text-anchor="middle">per unit area (m<tspan font-size="5" dy="-3">3</tspan><tspan dy="3"> ha</tspan><tspan font-size="5" dy="-3">-1</tspan><tspan dy="3">)</tspan></text>
<rect x="189.7" y="208.6" width="51.2" height="11.5" fill="url(#grad)"/>
<text x="173.6" y="231.3" class="lg">23210.3</text>
<text x="206.4" y="231.3" class="lg">473.72</text>
<text x="234.8" y="231.3" class="lg">0.06</text>
<text x="192.3" y="245.2" class="lg" text-anchor="middle">0</text>
<text x="248.2" y="245.2" class="lg" text-anchor="middle">1,000</text>
<text x="303.8" y="245.2" class="lg" text-anchor="middle">2,000</text>
<path d="M192.3,249.6 V254.4 H304 V249.6 M248.3,249.6 V254.4" fill="none" stroke="#444" stroke-width="1"/>
<text x="306.1" y="254.9" class="lg">Kilometer</text>
<text x="232.2" y="106.6" class="rl">Northwest</text>
<text x="271.9" y="166.4" class="rl">Southwest</text>
<text x="345.1" y="175" class="rl">Middle-lower Yangtze</text>
<text x="352.8" y="214.6" class="rl">South</text>
<text x="374.5" y="120.8" class="rl">North</text>
<text x="417" y="70.9" class="rl">Northeast</text>
</g>
<text x="336" y="33.8" class="yr" text-anchor="middle">2000s</text>
<text x="336" y="310.8" class="yr" text-anchor="middle">2010s</text>
<rect x="3.2" y="1.3" width="166.4" height="78.4" rx="10" class="bx"/>
<text x="83.3" y="13.1" class="tt" text-anchor="middle">Northwest</text>
<text x="8.9" y="24.4" class="hd">Province</text>
<text x="47.3" y="24.4" class="hd">Optimized IWP</text>
<text x="105.4" y="24.4" class="hd">Increased by (%)</text>
<rect x="104.7" y="29.8" width="51.12" height="7" class="br"/>
<text x="42.3" y="35.8" class="tx" text-anchor="end">Ningxia</text>
<text x="70.3" y="35.8" class="tx" text-anchor="middle">0.59</text>
<text x="130.26" y="35.8" class="tx" text-anchor="middle">0.36</text>
<rect x="104.7" y="39.67" width="49.7" height="7" class="br"/>
<text x="42.3" y="45.67" class="tx" text-anchor="end">Qinghai</text>
<text x="70.3" y="45.67" class="tx" text-anchor="middle">0.88</text>
<text x="129.55" y="45.67" class="tx" text-anchor="middle">0.35</text>
<rect x="104.7" y="49.54" width="48.28" height="7" class="br"/>
<text x="42.3" y="55.54" class="tx" text-anchor="end">Gansu</text>
<text x="70.3" y="55.54" class="tx" text-anchor="middle">0.45</text>
<text x="128.84" y="55.54" class="tx" text-anchor="middle">0.34</text>
<rect x="104.7" y="59.41" width="41.18" height="7" class="br"/>
<text x="42.3" y="65.41" class="tx" text-anchor="end">Xinjiang</text>
<text x="70.3" y="65.41" class="tx" text-anchor="middle">0.53</text>
<text x="125.29" y="65.41" class="tx" text-anchor="middle">0.29</text>
<rect x="104.7" y="69.28" width="36.92" height="7" class="br"/>
<text x="42.3" y="75.28" class="tx" text-anchor="end">Shaanxi</text>
<text x="70.3" y="75.28" class="tx" text-anchor="middle">0.40</text>
<text x="123.16" y="75.28" class="tx" text-anchor="middle">0.26</text><rect x="2.6" y="85.6" width="166.3" height="76.4" rx="11" class="bx"/>
<text x="84.95" y="95.6" class="tt" text-anchor="middle">Southwest</text>
<text x="11.7" y="106.5" class="hd">Province</text>
<text x="49.1" y="106.5" class="hd">Optimized IWP</text>
<text x="105.8" y="106.5" class="hd">Increased by (%)</text>
<rect x="107.1" y="111.4" width="49.98" height="7" class="br"/>
<text x="43.2" y="117.4" class="tx" text-anchor="end">Yunnan</text>
<text x="71.6" y="117.4" class="tx" text-anchor="middle">0.59</text>
<text x="132.09" y="117.4" class="tx" text-anchor="middle">0.42</text>
<rect x="107.1" y="121.15" width="47.6" height="7" class="br"/>
<text x="43.2" y="127.15" class="tx" text-anchor="end">Guizhou</text>
<text x="71.6" y="127.15" class="tx" text-anchor="middle">1.15</text>
<text x="130.9" y="127.15" class="tx" text-anchor="middle">0.4</text>
<rect x="107.1" y="130.9" width="28.56" height="7" class="br"/>
<text x="43.2" y="136.9" class="tx" text-anchor="end">Sichuan</text>
<text x="71.6" y="136.9" class="tx" text-anchor="middle">0.64</text>
<text x="121.38" y="136.9" class="tx" text-anchor="middle">0.24</text>
<rect x="107.1" y="140.65" width="15.47" height="7" class="br"/>
<text x="43.2" y="146.65" class="tx" text-anchor="end">Xizang</text>
<text x="71.6" y="146.65" class="tx" text-anchor="middle">1.79</text>
<text x="114.83" y="146.65" class="tx" text-anchor="middle">0.13</text>
<rect x="107.1" y="150.4" width="9.52" height="7" class="br"/>
<text x="43.2" y="156.4" class="tx" text-anchor="end">Chongqing</text>
<text x="71.6" y="156.4" class="tx" text-anchor="middle">2.02</text>
<text x="111.86" y="156.4" class="tx" text-anchor="middle">0.08</text><rect x="1.8" y="168.4" width="166.5" height="96.1" rx="14" class="bx"/>
<text x="80.8" y="179.5" class="tt" text-anchor="middle">Middle-lower Yangtze</text>
<text x="10.3" y="189.7" class="hd">Province</text>
<text x="47.6" y="189.7" class="hd">Optimized IWP</text>
<text x="103.9" y="189.7" class="hd">Increased by (%)</text>
<rect x="103.3" y="194.8" width="53.96" height="7" class="br"/>
<text x="43" y="200.8" class="tx" text-anchor="end">Shanghai</text>
<text x="70" y="200.8" class="tx" text-anchor="middle">1.62</text>
<text x="130.28" y="200.8" class="tx" text-anchor="middle">0.38</text>
<rect x="103.3" y="204.5" width="28.4" height="7" class="br"/>
<text x="43" y="210.5" class="tx" text-anchor="end">Jiangsu</text>
<text x="70" y="210.5" class="tx" text-anchor="middle">1.39</text>
<text x="117.5" y="210.5" class="tx" text-anchor="middle">0.2</text>
<rect x="103.3" y="214.2" width="26.98" height="7" class="br"/>
<text x="43" y="220.2" class="tx" text-anchor="end">Hubei</text>
<text x="70" y="220.2" class="tx" text-anchor="middle">1.43</text>
<text x="116.79" y="220.2" class="tx" text-anchor="middle">0.19</text>
<rect x="103.3" y="223.9" width="24.14" height="7" class="br"/>
<text x="43" y="229.9" class="tx" text-anchor="end">Anhui</text>
<text x="70" y="229.9" class="tx" text-anchor="middle">1.26</text>
<text x="115.37" y="229.9" class="tx" text-anchor="middle">0.17</text>
<rect x="103.3" y="233.6" width="24.14" height="7" class="br"/>
<text x="43" y="239.6" class="tx" text-anchor="end">Jiangxi</text>
<text x="70" y="239.6" class="tx" text-anchor="middle">0.63</text>
<text x="115.37" y="239.6" class="tx" text-anchor="middle">0.17</text>
<rect x="103.3" y="243.3" width="22.72" height="7" class="br"/>
<text x="43" y="249.3" class="tx" text-anchor="end">Hunan</text>
<text x="70" y="249.3" class="tx" text-anchor="middle">0.68</text>
<text x="114.66" y="249.3" class="tx" text-anchor="middle">0.16</text>
<rect x="103.3" y="253" width="21.3" height="7" class="br"/>
<text x="43" y="259" class="tx" text-anchor="end">Zhejiang</text>
<text x="70" y="259" class="tx" text-anchor="middle">1.34</text>
<text x="113.95" y="259" class="tx" text-anchor="middle">0.15</text><rect x="2.8" y="269.1" width="166.8" height="78.2" rx="11" class="bx"/>
<text x="82.4" y="281.9" class="tt" text-anchor="middle">Northwest</text>
<text x="10" y="292.9" class="hd">Province</text>
<text x="47.2" y="292.9" class="hd">Optimized IWP</text>
<text x="103.9" y="292.9" class="hd">Increased by (%)</text>
<rect x="103.2" y="297.6" width="47.43" height="7" class="br"/>
<text x="42.5" y="303.6" class="tx" text-anchor="end">Gansu</text>
<text x="69.4" y="303.6" class="tx" text-anchor="middle">0.40</text>
<text x="126.92" y="303.6" class="tx" text-anchor="middle">0.34</text>
<rect x="103.2" y="307.3" width="40.45" height="7" class="br"/>
<text x="42.5" y="313.3" class="tx" text-anchor="end">Xinjiang</text>
<text x="69.4" y="313.3" class="tx" text-anchor="middle">0.59</text>
<text x="123.43" y="313.3" class="tx" text-anchor="middle">0.29</text>
<rect x="103.2" y="317" width="25.11" height="7" class="br"/>
<text x="42.5" y="323" class="tx" text-anchor="end">Shaanxi</text>
<text x="69.4" y="323" class="tx" text-anchor="middle">0.39</text>
<text x="115.75" y="323" class="tx" text-anchor="middle">0.18</text>
<rect x="103.2" y="326.7" width="20.93" height="7" class="br"/>
<text x="42.5" y="332.7" class="tx" text-anchor="end">Ningxia</text>
<text x="69.4" y="332.7" class="tx" text-anchor="middle">0.69</text>
<text x="113.66" y="332.7" class="tx" text-anchor="middle">0.15</text>
<rect x="103.2" y="336.4" width="19.53" height="7" class="br"/>
<text x="42.5" y="342.4" class="tx" text-anchor="end">Qinghai</text>
<text x="69.4" y="342.4" class="tx" text-anchor="middle">0.93</text>
<text x="112.97" y="342.4" class="tx" text-anchor="middle">0.14</text><rect x="2.6" y="353.4" width="166.3" height="76" rx="11" class="bx"/>
<text x="84.2" y="363.4" class="tt" text-anchor="middle">Southwest</text>
<text x="11.4" y="374.3" class="hd">Province</text>
<text x="48.4" y="374.3" class="hd">Optimized IWP</text>
<text x="105.1" y="374.3" class="hd">Increased by (%)</text>
<rect x="106.1" y="379.4" width="50.4" height="7" class="br"/>
<text x="42.8" y="385.4" class="tx" text-anchor="end">Chongqing</text>
<text x="70.7" y="385.4" class="tx" text-anchor="middle">2.71</text>
<text x="131.3" y="385.4" class="tx" text-anchor="middle">0.42</text>
<rect x="106.1" y="389" width="33.6" height="7" class="br"/>
<text x="42.8" y="395" class="tx" text-anchor="end">Yunnan</text>
<text x="70.7" y="395" class="tx" text-anchor="middle">0.54</text>
<text x="122.9" y="395" class="tx" text-anchor="middle">0.28</text>
<rect x="106.1" y="398.6" width="27.6" height="7" class="br"/>
<text x="42.8" y="404.6" class="tx" text-anchor="end">Sichuan</text>
<text x="70.7" y="404.6" class="tx" text-anchor="middle">0.34</text>
<text x="119.9" y="404.6" class="tx" text-anchor="middle">0.23</text>
<rect x="106.1" y="408.2" width="27.6" height="7" class="br"/>
<text x="42.8" y="414.2" class="tx" text-anchor="end">Guizhou</text>
<text x="70.7" y="414.2" class="tx" text-anchor="middle">1.26</text>
<text x="119.9" y="414.2" class="tx" text-anchor="middle">0.23</text>
<rect x="106.1" y="417.8" width="1.2" height="7" class="br"/>
<text x="42.8" y="423.8" class="tx" text-anchor="end">Xizang</text>
<text x="70.7" y="423.8" class="tx" text-anchor="middle">1.35</text>
<text x="106.7" y="423.8" class="tx" text-anchor="middle">0.01</text><rect x="1.8" y="436.1" width="166.5" height="95.8" rx="14" class="bx"/>
<text x="79.65" y="448.3" class="tt" text-anchor="middle">Middle-lower Yangtze</text>
<text x="8.9" y="458.4" class="hd">Province</text>
<text x="46.2" y="458.4" class="hd">Optimized IWP</text>
<text x="102.4" y="458.4" class="hd">Increased by (%)</text>
<rect x="101" y="463.6" width="54.61" height="7" class="br"/>
<text x="41.4" y="469.6" class="tx" text-anchor="end">Shanghai</text>
<text x="68.8" y="469.6" class="tx" text-anchor="middle">3.32</text>
<text x="128.31" y="469.6" class="tx" text-anchor="middle">0.86</text>
<rect x="101" y="473.22" width="18.41" height="7" class="br"/>
<text x="41.4" y="479.22" class="tx" text-anchor="end">Zhejiang</text>
<text x="68.8" y="479.22" class="tx" text-anchor="middle">2.68</text>
<text x="110.21" y="479.22" class="tx" text-anchor="middle">0.29</text>
<rect x="101" y="482.84" width="15.88" height="7" class="br"/>
<text x="41.4" y="488.84" class="tx" text-anchor="end">Jiangsu</text>
<text x="68.8" y="488.84" class="tx" text-anchor="middle">1.56</text>
<text x="108.94" y="488.84" class="tx" text-anchor="middle">0.25</text>
<rect x="101" y="492.46" width="12.7" height="7" class="br"/>
<text x="41.4" y="498.46" class="tx" text-anchor="end">Hubei</text>
<text x="68.8" y="498.46" class="tx" text-anchor="middle">1.92</text>
<text x="107.35" y="498.46" class="tx" text-anchor="middle">0.2</text>
<rect x="101" y="502.08" width="12.7" height="7" class="br"/>
<text x="41.4" y="508.08" class="tx" text-anchor="end">Hunan</text>
<text x="68.8" y="508.08" class="tx" text-anchor="middle">1.14</text>
<text x="107.35" y="508.08" class="tx" text-anchor="middle">0.2</text>
<rect x="101" y="511.7" width="12.7" height="7" class="br"/>
<text x="41.4" y="517.7" class="tx" text-anchor="end">Anhui</text>
<text x="68.8" y="517.7" class="tx" text-anchor="middle">1.68</text>
<text x="107.35" y="517.7" class="tx" text-anchor="middle">0.2</text>
<rect x="101" y="521.32" width="9.53" height="7" class="br"/>
<text x="41.4" y="527.32" class="tx" text-anchor="end">Jiangxi</text>
<text x="68.8" y="527.32" class="tx" text-anchor="middle">1.10</text>
<text x="105.76" y="527.32" class="tx" text-anchor="middle">0.15</text><rect x="510.4" y="8.1" width="169.9" height="60.5" rx="9" class="bx"/>
<text x="587.65" y="20.8" class="tt" text-anchor="middle">Northeast</text>
<text x="523.4" y="31.7" class="hd">Province</text>
<text x="560.8" y="31.7" class="hd">Optimized IWP</text>
<text x="616.7" y="31.7" class="hd">Increased by (%)</text>
<rect x="615.1" y="36.6" width="50.84" height="7" class="br"/>
<text x="555.8" y="42.6" class="tx" text-anchor="end">Jilin</text>
<text x="583" y="42.6" class="tx" text-anchor="middle">2.72</text>
<text x="640.52" y="42.6" class="tx" text-anchor="middle">0.31</text>
<rect x="615.1" y="46.15" width="50.84" height="7" class="br"/>
<text x="555.8" y="52.15" class="tx" text-anchor="end">Heilongjiang</text>
<text x="583" y="52.15" class="tx" text-anchor="middle">1.98</text>
<text x="640.52" y="52.15" class="tx" text-anchor="middle">0.31</text>
<rect x="615.1" y="55.7" width="49.2" height="7" class="br"/>
<text x="555.8" y="61.7" class="tx" text-anchor="end">Liaoning</text>
<text x="583" y="61.7" class="tx" text-anchor="middle">1.77</text>
<text x="639.7" y="61.7" class="tx" text-anchor="middle">0.3</text><rect x="502.3" y="77.5" width="178" height="97.9" rx="14" class="bx"/>
<text x="587" y="89.8" class="tt" text-anchor="middle">North</text>
<text x="522.5" y="100.3" class="hd">Province</text>
<text x="560.1" y="100.3" class="hd">Optimized IWP</text>
<text x="616.8" y="100.3" class="hd">Increased by (%)</text>
<rect x="615.9" y="105.4" width="51.04" height="7" class="br"/>
<text x="555.1" y="111.4" class="tx" text-anchor="end">Beijing</text>
<text x="582.2" y="111.4" class="tx" text-anchor="middle">0.92</text>
<text x="641.42" y="111.4" class="tx" text-anchor="middle">0.22</text>
<rect x="615.9" y="115.05" width="41.76" height="7" class="br"/>
<text x="555.1" y="121.05" class="tx" text-anchor="end">Shandong</text>
<text x="582.2" y="121.05" class="tx" text-anchor="middle">0.99</text>
<text x="636.78" y="121.05" class="tx" text-anchor="middle">0.18</text>
<rect x="615.9" y="124.7" width="39.44" height="7" class="br"/>
<text x="555.1" y="130.7" class="tx" text-anchor="end">Inner Mongolia</text>
<text x="582.2" y="130.7" class="tx" text-anchor="middle">0.89</text>
<text x="635.62" y="130.7" class="tx" text-anchor="middle">0.17</text>
<rect x="615.9" y="134.35" width="37.12" height="7" class="br"/>
<text x="555.1" y="140.35" class="tx" text-anchor="end">Henan</text>
<text x="582.2" y="140.35" class="tx" text-anchor="middle">1.09</text>
<text x="634.46" y="140.35" class="tx" text-anchor="middle">0.16</text>
<rect x="615.9" y="144" width="37.12" height="7" class="br"/>
<text x="555.1" y="150" class="tx" text-anchor="end">Shanxi</text>
<text x="582.2" y="150" class="tx" text-anchor="middle">0.34</text>
<text x="634.46" y="150" class="tx" text-anchor="middle">0.16</text>
<rect x="615.9" y="153.65" width="34.8" height="7" class="br"/>
<text x="555.1" y="159.65" class="tx" text-anchor="end">Hebei</text>
<text x="582.2" y="159.65" class="tx" text-anchor="middle">0.61</text>
<text x="633.3" y="159.65" class="tx" text-anchor="middle">0.15</text>
<rect x="608.94" y="163.3" width="6.96" height="7" class="br"/>
<text x="555.1" y="169.3" class="tx" text-anchor="end">Tianjin</text>
<text x="582.2" y="169.3" class="tx" text-anchor="middle">0.96</text>
<text x="612.42" y="169.3" class="tx" text-anchor="middle">-0.03</text><rect x="510.1" y="184.1" width="172.7" height="72.1" rx="10" class="bx"/>
<text x="591" y="196.5" class="tt" text-anchor="middle">South</text>
<text x="524.9" y="207.5" class="hd">Province</text>
<text x="562" y="207.5" class="hd">Optimized IWP</text>
<text x="618.6" y="207.5" class="hd">Increased by (%)</text>
<rect x="617" y="212.3" width="55.86" height="7" class="br"/>
<text x="556.1" y="218.3" class="tx" text-anchor="end">Hainan</text>
<text x="584.3" y="218.3" class="tx" text-anchor="middle">0.13</text>
<text x="644.93" y="218.3" class="tx" text-anchor="middle">0.49</text>
<rect x="617" y="222.05" width="22.8" height="7" class="br"/>
<text x="556.1" y="228.05" class="tx" text-anchor="end">Guangxi</text>
<text x="584.3" y="228.05" class="tx" text-anchor="middle">0.86</text>
<text x="628.4" y="228.05" class="tx" text-anchor="middle">0.2</text>
<rect x="617" y="231.8" width="21.66" height="7" class="br"/>
<text x="556.1" y="237.8" class="tx" text-anchor="end">Guangdong</text>
<text x="584.3" y="237.8" class="tx" text-anchor="middle">0.68</text>
<text x="627.83" y="237.8" class="tx" text-anchor="middle">0.19</text>
<rect x="617" y="241.55" width="18.24" height="7" class="br"/>
<text x="556.1" y="247.55" class="tx" text-anchor="end">Fujian</text>
<text x="584.3" y="247.55" class="tx" text-anchor="middle">1.04</text>
<text x="626.12" y="247.55" class="tx" text-anchor="middle">0.16</text><rect x="509.7" y="275.7" width="170.4" height="60.5" rx="9" class="bx"/>
<text x="586.45" y="287.5" class="tt" text-anchor="middle">Northeast</text>
<text x="522.1" y="298" class="hd">Province</text>
<text x="559.5" y="298" class="hd">Optimized IWP</text>
<text x="616" y="298" class="hd">Increased by (%)</text>
<rect x="614.1" y="303.1" width="48.45" height="7" class="br"/>
<text x="554.7" y="309.1" class="tx" text-anchor="end">Heilongjiang</text>
<text x="581.8" y="309.1" class="tx" text-anchor="middle">2.05</text>
<text x="638.33" y="309.1" class="tx" text-anchor="middle">0.17</text>
<rect x="614.1" y="312.75" width="48.45" height="7" class="br"/>
<text x="554.7" y="318.75" class="tx" text-anchor="end">Liaoning</text>
<text x="581.8" y="318.75" class="tx" text-anchor="middle">1.22</text>
<text x="638.33" y="318.75" class="tx" text-anchor="middle">0.17</text>
<rect x="614.1" y="322.4" width="39.9" height="7" class="br"/>
<text x="554.7" y="328.4" class="tx" text-anchor="end">Jilin</text>
<text x="581.8" y="328.4" class="tx" text-anchor="middle">1.63</text>
<text x="634.05" y="328.4" class="tx" text-anchor="middle">0.14</text><rect x="501.9" y="345" width="178.1" height="97.9" rx="14" class="bx"/>
<text x="587" y="355.6" class="tt" text-anchor="middle">North</text>
<text x="523.1" y="366.7" class="hd">Province</text>
<text x="560.5" y="366.7" class="hd">Optimized IWP</text>
<text x="616.8" y="366.7" class="hd">Increased by (%)</text>
<rect x="615.3" y="371.7" width="48.45" height="7" class="br"/>
<text x="555.4" y="377.7" class="tx" text-anchor="end">Beijing</text>
<text x="582.2" y="377.7" class="tx" text-anchor="middle">0.53</text>
<text x="639.52" y="377.7" class="tx" text-anchor="middle">0.3</text>
<rect x="615.3" y="381.32" width="24.22" height="7" class="br"/>
<text x="555.4" y="387.32" class="tx" text-anchor="end">Shanxi</text>
<text x="582.2" y="387.32" class="tx" text-anchor="middle">0.40</text>
<text x="627.41" y="387.32" class="tx" text-anchor="middle">0.15</text>
<rect x="615.3" y="390.94" width="21" height="7" class="br"/>
<text x="555.4" y="396.94" class="tx" text-anchor="end">Shandong</text>
<text x="582.2" y="396.94" class="tx" text-anchor="middle">0.73</text>
<text x="625.8" y="396.94" class="tx" text-anchor="middle">0.13</text>
<rect x="615.3" y="400.56" width="19.38" height="7" class="br"/>
<text x="555.4" y="406.56" class="tx" text-anchor="end">Henan</text>
<text x="582.2" y="406.56" class="tx" text-anchor="middle">0.89</text>
<text x="624.99" y="406.56" class="tx" text-anchor="middle">0.12</text>
<rect x="615.3" y="410.18" width="19.38" height="7" class="br"/>
<text x="555.4" y="416.18" class="tx" text-anchor="end">Inner Mongolia</text>
<text x="582.2" y="416.18" class="tx" text-anchor="middle">0.90</text>
<text x="624.99" y="416.18" class="tx" text-anchor="middle">0.12</text>
<rect x="615.3" y="419.8" width="19.38" height="7" class="br"/>
<text x="555.4" y="425.8" class="tx" text-anchor="end">Tianjin</text>
<text x="582.2" y="425.8" class="tx" text-anchor="middle">0.55</text>
<text x="624.99" y="425.8" class="tx" text-anchor="middle">0.12</text>
<rect x="615.3" y="429.42" width="19.38" height="7" class="br"/>
<text x="555.4" y="435.42" class="tx" text-anchor="end">Hebei</text>
<text x="582.2" y="435.42" class="tx" text-anchor="middle">0.60</text>
<text x="624.99" y="435.42" class="tx" text-anchor="middle">0.12</text><rect x="509.7" y="451.6" width="173" height="71.7" rx="10" class="bx"/>
<text x="591.4" y="463.7" class="tt" text-anchor="middle">South</text>
<text x="525.6" y="474.7" class="hd">Province</text>
<text x="562.7" y="474.7" class="hd">Optimized IWP</text>
<text x="619" y="474.7" class="hd">Increased by (%)</text>
<rect x="614.6" y="479.7" width="56.68" height="7" class="br"/>
<text x="556.9" y="485.7" class="tx" text-anchor="end">Hainan</text>
<text x="584.8" y="485.7" class="tx" text-anchor="middle">0.13</text>
<text x="642.94" y="485.7" class="tx" text-anchor="middle">0.52</text>
<rect x="614.6" y="489.35" width="33.79" height="7" class="br"/>
<text x="556.9" y="495.35" class="tx" text-anchor="end">Guangxi</text>
<text x="584.8" y="495.35" class="tx" text-anchor="middle">1.60</text>
<text x="631.5" y="495.35" class="tx" text-anchor="middle">0.31</text>
<rect x="614.6" y="499" width="31.61" height="7" class="br"/>
<text x="556.9" y="505" class="tx" text-anchor="end">Fujian</text>
<text x="584.8" y="505" class="tx" text-anchor="middle">1.77</text>
<text x="630.4" y="505" class="tx" text-anchor="middle">0.29</text>
<rect x="614.6" y="508.65" width="23.98" height="7" class="br"/>
<text x="556.9" y="514.65" class="tx" text-anchor="end">Guangdong</text>
<text x="584.8" y="514.65" class="tx" text-anchor="middle">0.95</text>
<text x="626.59" y="514.65" class="tx" text-anchor="middle">0.22</text>
<line x1="170.3" y1="41.3" x2="263.3" y2="90.8" class="cn"/>
<circle cx="170.3" cy="41.3" r="3.7" class="cd"/>
<circle cx="263.3" cy="90.8" r="3.7" class="cd"/>
<line x1="168.4" y1="125.3" x2="247.2" y2="145.8" class="cn"/>
<circle cx="168.4" cy="125.3" r="3.7" class="cd"/>
<circle cx="247.2" cy="145.8" r="3.7" class="cd"/>
<line x1="169.5" y1="181.3" x2="370.8" y2="187.5" class="cn"/>
<circle cx="169.5" cy="181.3" r="3.7" class="cd"/>
<circle cx="370.8" cy="187.5" r="3.7" class="cd"/>
<line x1="507.6" y1="49.7" x2="449.1" y2="78.8" class="cn"/>
<circle cx="507.6" cy="49.7" r="3.7" class="cd"/>
<circle cx="449.1" cy="78.8" r="3.7" class="cd"/>
<line x1="503.3" y1="138.2" x2="400.5" y2="125" class="cn"/>
<circle cx="503.3" cy="138.2" r="3.7" class="cd"/>
<circle cx="400.5" cy="125" r="3.7" class="cd"/>
<line x1="510.2" y1="220.1" x2="408.7" y2="200.7" class="cn"/>
<circle cx="510.2" cy="220.1" r="3.7" class="cd"/>
<circle cx="408.7" cy="200.7" r="3.7" class="cd"/>
<line x1="169.1" y1="310.8" x2="263.3" y2="359.8" class="cn"/>
<circle cx="169.1" cy="310.8" r="3.7" class="cd"/>
<circle cx="263.3" cy="359.8" r="3.7" class="cd"/>
<line x1="166.5" y1="394.8" x2="247.2" y2="414.8" class="cn"/>
<circle cx="166.5" cy="394.8" r="3.7" class="cd"/>
<circle cx="247.2" cy="414.8" r="3.7" class="cd"/>
<line x1="166.8" y1="450.6" x2="370.8" y2="456.5" class="cn"/>
<circle cx="166.8" cy="450.6" r="3.7" class="cd"/>
<circle cx="370.8" cy="456.5" r="3.7" class="cd"/>
<line x1="506.6" y1="318.7" x2="449.1" y2="347.8" class="cn"/>
<circle cx="506.6" cy="318.7" r="3.7" class="cd"/>
<circle cx="449.1" cy="347.8" r="3.7" class="cd"/>
<line x1="502.2" y1="407.3" x2="400.5" y2="394" class="cn"/>
<circle cx="502.2" cy="407.3" r="3.7" class="cd"/>
<circle cx="400.5" cy="394" r="3.7" class="cd"/>
<line x1="510.1" y1="487.6" x2="408.7" y2="469.7" class="cn"/>
<circle cx="510.1" cy="487.6" r="3.7" class="cd"/>
<circle cx="408.7" cy="469.7" r="3.7" class="cd"/>
</svg>
</body></html>
